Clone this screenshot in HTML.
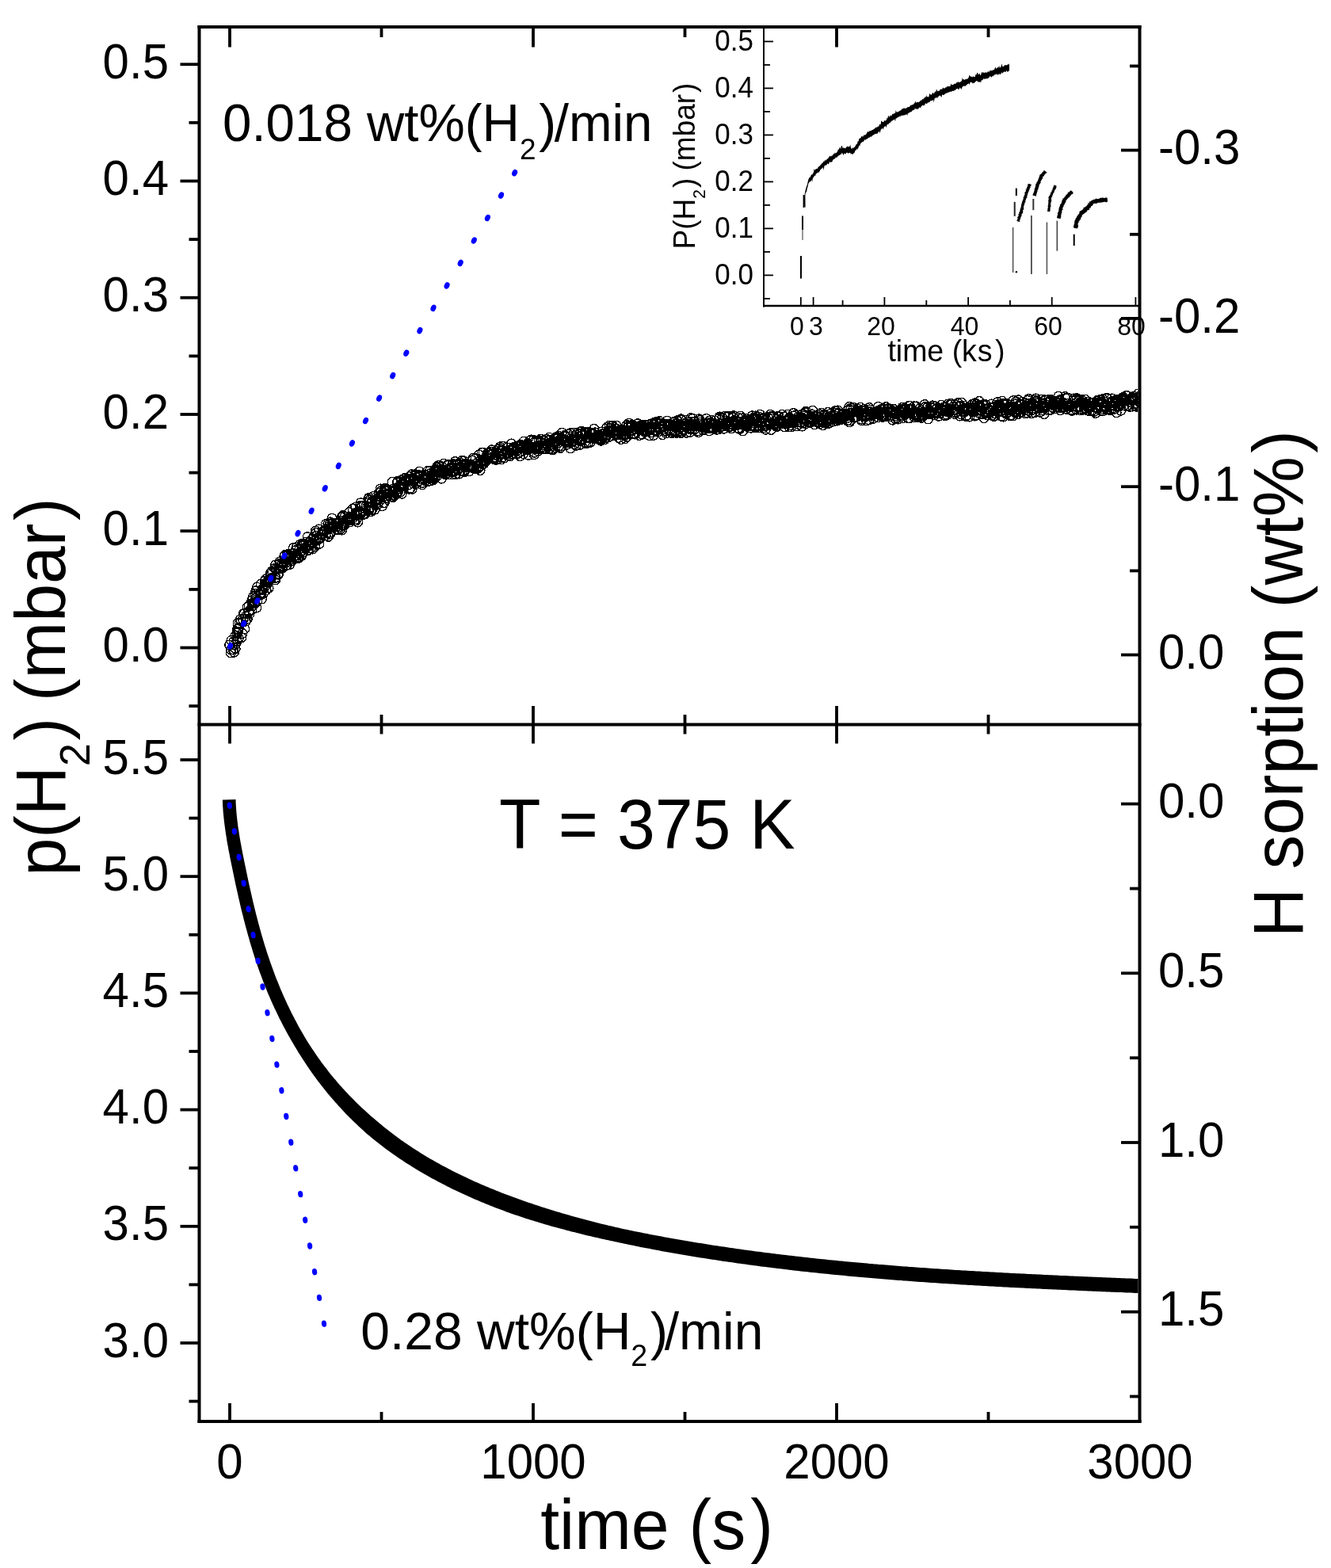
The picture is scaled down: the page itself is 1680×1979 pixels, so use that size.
<!DOCTYPE html>
<html><head><meta charset="utf-8"><title>p(H2) vs time</title><style>html,body{margin:0;padding:0;background:#fff;width:1680px;height:1979px;overflow:hidden}svg{display:block}</style></head><body><svg width="1680" height="1979" viewBox="0 0 1680 1979"><rect width="1680" height="1979" fill="#fff"/><defs><clipPath id="pa"><rect x="253.5" y="36" width="1183" height="876"/></clipPath></defs><g fill="none" stroke="#000" stroke-width="1.4" shape-rendering="crispEdges" clip-path="url(#pa)"><circle cx="291.3" cy="823.8" r="5.9"/><circle cx="295.5" cy="823.2" r="5.9"/><circle cx="291.5" cy="820.1" r="5.9"/><circle cx="294.4" cy="820" r="5.9"/><circle cx="297.1" cy="818.6" r="5.9"/><circle cx="289.7" cy="814" r="5.9"/><circle cx="296.4" cy="813.7" r="5.9"/><circle cx="295.1" cy="809.7" r="5.9"/><circle cx="292" cy="808.3" r="5.9"/><circle cx="299.2" cy="809.6" r="5.9"/><circle cx="298.9" cy="806.3" r="5.9"/><circle cx="301.2" cy="805.4" r="5.9"/><circle cx="297.4" cy="802.1" r="5.9"/><circle cx="304.9" cy="804.6" r="5.9"/><circle cx="299.3" cy="799.2" r="5.9"/><circle cx="305.9" cy="799.4" r="5.9"/><circle cx="300.4" cy="797.2" r="5.9"/><circle cx="299.7" cy="794" r="5.9"/><circle cx="300.7" cy="794" r="5.9"/><circle cx="301.9" cy="792" r="5.9"/><circle cx="308.7" cy="793.9" r="5.9"/><circle cx="300.1" cy="786.3" r="5.9"/><circle cx="302.4" cy="786.6" r="5.9"/><circle cx="304.3" cy="784" r="5.9"/><circle cx="303.4" cy="781.8" r="5.9"/><circle cx="306.8" cy="781.9" r="5.9"/><circle cx="310.3" cy="784.1" r="5.9"/><circle cx="312.2" cy="781.1" r="5.9"/><circle cx="310.3" cy="777.8" r="5.9"/><circle cx="307.5" cy="774.4" r="5.9"/><circle cx="308.3" cy="774.6" r="5.9"/><circle cx="314.8" cy="774.9" r="5.9"/><circle cx="313.6" cy="772.9" r="5.9"/><circle cx="314.3" cy="771.3" r="5.9"/><circle cx="312.2" cy="766.5" r="5.9"/><circle cx="317.9" cy="769.4" r="5.9"/><circle cx="314.1" cy="764.9" r="5.9"/><circle cx="318.7" cy="764.7" r="5.9"/><circle cx="323.8" cy="767" r="5.9"/><circle cx="318.1" cy="761.8" r="5.9"/><circle cx="321.6" cy="761.7" r="5.9"/><circle cx="317.9" cy="758" r="5.9"/><circle cx="321.8" cy="759.7" r="5.9"/><circle cx="324.7" cy="758.6" r="5.9"/><circle cx="322.7" cy="754.7" r="5.9"/><circle cx="319.3" cy="753.6" r="5.9"/><circle cx="322.3" cy="751.6" r="5.9"/><circle cx="330.4" cy="755.9" r="5.9"/><circle cx="322.2" cy="749.6" r="5.9"/><circle cx="329.4" cy="750.6" r="5.9"/><circle cx="328.4" cy="749.5" r="5.9"/><circle cx="322.9" cy="745.8" r="5.9"/><circle cx="329.6" cy="747.8" r="5.9"/><circle cx="332.7" cy="748.1" r="5.9"/><circle cx="324.5" cy="741.3" r="5.9"/><circle cx="332" cy="744.5" r="5.9"/><circle cx="331.7" cy="743.4" r="5.9"/><circle cx="336.1" cy="744.8" r="5.9"/><circle cx="329.2" cy="737.3" r="5.9"/><circle cx="333.9" cy="741.2" r="5.9"/><circle cx="334.6" cy="739.5" r="5.9"/><circle cx="339" cy="742.1" r="5.9"/><circle cx="336.5" cy="738.2" r="5.9"/><circle cx="335.1" cy="736.6" r="5.9"/><circle cx="334.1" cy="733.7" r="5.9"/><circle cx="337.4" cy="734.7" r="5.9"/><circle cx="335.6" cy="730.8" r="5.9"/><circle cx="339.5" cy="732.5" r="5.9"/><circle cx="339.6" cy="733.1" r="5.9"/><circle cx="339.4" cy="731" r="5.9"/><circle cx="341.3" cy="730" r="5.9"/><circle cx="341.3" cy="730.7" r="5.9"/><circle cx="342.7" cy="729.2" r="5.9"/><circle cx="347.6" cy="731.8" r="5.9"/><circle cx="347.7" cy="729.4" r="5.9"/><circle cx="348.1" cy="728.7" r="5.9"/><circle cx="341.9" cy="722.5" r="5.9"/><circle cx="344" cy="723" r="5.9"/><circle cx="343.4" cy="720.8" r="5.9"/><circle cx="350.8" cy="724.7" r="5.9"/><circle cx="351.2" cy="725.2" r="5.9"/><circle cx="351.5" cy="723.9" r="5.9"/><circle cx="346.6" cy="717.4" r="5.9"/><circle cx="348.6" cy="718.2" r="5.9"/><circle cx="349" cy="717.1" r="5.9"/><circle cx="350.9" cy="718.2" r="5.9"/><circle cx="347.8" cy="712.9" r="5.9"/><circle cx="353.4" cy="717.1" r="5.9"/><circle cx="356.3" cy="717.1" r="5.9"/><circle cx="354.6" cy="714.5" r="5.9"/><circle cx="356.7" cy="715.6" r="5.9"/><circle cx="354" cy="710.9" r="5.9"/><circle cx="352.9" cy="709.2" r="5.9"/><circle cx="356.4" cy="710" r="5.9"/><circle cx="361" cy="714" r="5.9"/><circle cx="362.1" cy="713.3" r="5.9"/><circle cx="358.1" cy="709.2" r="5.9"/><circle cx="361.5" cy="709.9" r="5.9"/><circle cx="359.8" cy="708.3" r="5.9"/><circle cx="365.3" cy="712.8" r="5.9"/><circle cx="363.9" cy="708.6" r="5.9"/><circle cx="358.9" cy="702.3" r="5.9"/><circle cx="359.6" cy="700.6" r="5.9"/><circle cx="363.4" cy="701.6" r="5.9"/><circle cx="368.3" cy="708" r="5.9"/><circle cx="362.4" cy="699.8" r="5.9"/><circle cx="367.9" cy="703.9" r="5.9"/><circle cx="367.9" cy="702.2" r="5.9"/><circle cx="368.3" cy="701.7" r="5.9"/><circle cx="371.7" cy="704.3" r="5.9"/><circle cx="374" cy="704.9" r="5.9"/><circle cx="369.9" cy="698.6" r="5.9"/><circle cx="372.2" cy="701.3" r="5.9"/><circle cx="376.6" cy="704.6" r="5.9"/><circle cx="376.5" cy="703" r="5.9"/><circle cx="377.6" cy="703.9" r="5.9"/><circle cx="370.4" cy="691.5" r="5.9"/><circle cx="373.1" cy="694.7" r="5.9"/><circle cx="377.7" cy="698.1" r="5.9"/><circle cx="380.6" cy="701.5" r="5.9"/><circle cx="381" cy="700.5" r="5.9"/><circle cx="374.7" cy="690.2" r="5.9"/><circle cx="379.7" cy="695.7" r="5.9"/><circle cx="377.9" cy="693.1" r="5.9"/><circle cx="382.1" cy="697.2" r="5.9"/><circle cx="382.2" cy="694.5" r="5.9"/><circle cx="383.2" cy="696.6" r="5.9"/><circle cx="381.3" cy="689.4" r="5.9"/><circle cx="379.3" cy="686.9" r="5.9"/><circle cx="381.7" cy="686.9" r="5.9"/><circle cx="384.6" cy="691.3" r="5.9"/><circle cx="383.3" cy="686.2" r="5.9"/><circle cx="388.8" cy="693.9" r="5.9"/><circle cx="389.2" cy="694.4" r="5.9"/><circle cx="388.6" cy="689.4" r="5.9"/><circle cx="386.4" cy="684.2" r="5.9"/><circle cx="388.7" cy="687.4" r="5.9"/><circle cx="392.4" cy="691.8" r="5.9"/><circle cx="394.4" cy="693" r="5.9"/><circle cx="391.5" cy="687.8" r="5.9"/><circle cx="391.2" cy="684" r="5.9"/><circle cx="391.7" cy="684.5" r="5.9"/><circle cx="388.2" cy="677.7" r="5.9"/><circle cx="397.5" cy="689.8" r="5.9"/><circle cx="395.5" cy="685.3" r="5.9"/><circle cx="393.2" cy="681.2" r="5.9"/><circle cx="397" cy="682.6" r="5.9"/><circle cx="395.2" cy="680" r="5.9"/><circle cx="398.6" cy="681.9" r="5.9"/><circle cx="402.9" cy="686.3" r="5.9"/><circle cx="396.1" cy="677.3" r="5.9"/><circle cx="399.5" cy="679.6" r="5.9"/><circle cx="401.9" cy="681.1" r="5.9"/><circle cx="399.3" cy="676.1" r="5.9"/><circle cx="402.7" cy="678.8" r="5.9"/><circle cx="404.3" cy="679.1" r="5.9"/><circle cx="399" cy="672.6" r="5.9"/><circle cx="398.5" cy="670.1" r="5.9"/><circle cx="405.6" cy="674.5" r="5.9"/><circle cx="405.6" cy="674.9" r="5.9"/><circle cx="405.8" cy="674" r="5.9"/><circle cx="402.7" cy="668" r="5.9"/><circle cx="407.4" cy="670.9" r="5.9"/><circle cx="411.1" cy="675.9" r="5.9"/><circle cx="414.5" cy="677.3" r="5.9"/><circle cx="409.4" cy="670.4" r="5.9"/><circle cx="410.1" cy="670.6" r="5.9"/><circle cx="415.8" cy="673.9" r="5.9"/><circle cx="411.7" cy="668.2" r="5.9"/><circle cx="417.3" cy="673.4" r="5.9"/><circle cx="416.7" cy="672" r="5.9"/><circle cx="415.1" cy="667.5" r="5.9"/><circle cx="411.2" cy="661.7" r="5.9"/><circle cx="414.9" cy="664.7" r="5.9"/><circle cx="416.5" cy="666.2" r="5.9"/><circle cx="414" cy="661.1" r="5.9"/><circle cx="419.1" cy="664.8" r="5.9"/><circle cx="416.8" cy="661.2" r="5.9"/><circle cx="417" cy="659" r="5.9"/><circle cx="420.8" cy="664" r="5.9"/><circle cx="419.4" cy="660.3" r="5.9"/><circle cx="424.8" cy="668.2" r="5.9"/><circle cx="426.5" cy="668.8" r="5.9"/><circle cx="419.1" cy="654.1" r="5.9"/><circle cx="423.6" cy="660.6" r="5.9"/><circle cx="426.9" cy="665.2" r="5.9"/><circle cx="426" cy="660.4" r="5.9"/><circle cx="430.1" cy="667.5" r="5.9"/><circle cx="431.5" cy="669" r="5.9"/><circle cx="429.7" cy="664.4" r="5.9"/><circle cx="427.6" cy="658.9" r="5.9"/><circle cx="431.1" cy="662.1" r="5.9"/><circle cx="432.7" cy="663.7" r="5.9"/><circle cx="430.2" cy="657.5" r="5.9"/><circle cx="432.4" cy="659.7" r="5.9"/><circle cx="434.8" cy="662.8" r="5.9"/><circle cx="431.4" cy="653.3" r="5.9"/><circle cx="435.2" cy="659.7" r="5.9"/><circle cx="432.2" cy="652.5" r="5.9"/><circle cx="433.3" cy="651" r="5.9"/><circle cx="432.7" cy="650.6" r="5.9"/><circle cx="435.1" cy="651.9" r="5.9"/><circle cx="437.4" cy="655.3" r="5.9"/><circle cx="439" cy="656.4" r="5.9"/><circle cx="441.6" cy="658.8" r="5.9"/><circle cx="439.7" cy="653.4" r="5.9"/><circle cx="440.9" cy="656.7" r="5.9"/><circle cx="440.6" cy="654.9" r="5.9"/><circle cx="442.6" cy="654.4" r="5.9"/><circle cx="441.4" cy="652.1" r="5.9"/><circle cx="443.3" cy="653" r="5.9"/><circle cx="445.2" cy="653.9" r="5.9"/><circle cx="440.9" cy="646.6" r="5.9"/><circle cx="447.3" cy="656.9" r="5.9"/><circle cx="449.5" cy="656.8" r="5.9"/><circle cx="451.6" cy="659" r="5.9"/><circle cx="450.1" cy="654.9" r="5.9"/><circle cx="448.9" cy="650.8" r="5.9"/><circle cx="448.2" cy="648.7" r="5.9"/><circle cx="445.1" cy="642.4" r="5.9"/><circle cx="451.1" cy="649.7" r="5.9"/><circle cx="450.6" cy="647.9" r="5.9"/><circle cx="450.3" cy="646.5" r="5.9"/><circle cx="448.7" cy="640.2" r="5.9"/><circle cx="454.6" cy="648.8" r="5.9"/><circle cx="455.6" cy="648.4" r="5.9"/><circle cx="454.4" cy="646" r="5.9"/><circle cx="456" cy="646.8" r="5.9"/><circle cx="458.5" cy="649.4" r="5.9"/><circle cx="459.1" cy="648.6" r="5.9"/><circle cx="454.4" cy="638.5" r="5.9"/><circle cx="461.1" cy="648.5" r="5.9"/><circle cx="456.6" cy="638.7" r="5.9"/><circle cx="455.2" cy="634.8" r="5.9"/><circle cx="459.3" cy="638.2" r="5.9"/><circle cx="460.9" cy="642.3" r="5.9"/><circle cx="464.6" cy="644.5" r="5.9"/><circle cx="464.8" cy="644.1" r="5.9"/><circle cx="462.2" cy="638.2" r="5.9"/><circle cx="466" cy="644" r="5.9"/><circle cx="468.4" cy="645.5" r="5.9"/><circle cx="468.7" cy="643.3" r="5.9"/><circle cx="467.4" cy="640.3" r="5.9"/><circle cx="470.1" cy="642.9" r="5.9"/><circle cx="465.6" cy="634.2" r="5.9"/><circle cx="472.8" cy="643.2" r="5.9"/><circle cx="466.1" cy="631.5" r="5.9"/><circle cx="464.8" cy="629.7" r="5.9"/><circle cx="468.9" cy="633.4" r="5.9"/><circle cx="465.9" cy="628.1" r="5.9"/><circle cx="469.8" cy="633.9" r="5.9"/><circle cx="474.1" cy="636.9" r="5.9"/><circle cx="473.5" cy="632.5" r="5.9"/><circle cx="476.5" cy="637" r="5.9"/><circle cx="473.5" cy="631.5" r="5.9"/><circle cx="471.4" cy="626.4" r="5.9"/><circle cx="475.8" cy="630" r="5.9"/><circle cx="476.6" cy="630.6" r="5.9"/><circle cx="482.5" cy="638.7" r="5.9"/><circle cx="479.4" cy="632" r="5.9"/><circle cx="478.4" cy="628.7" r="5.9"/><circle cx="478.7" cy="626.9" r="5.9"/><circle cx="484.3" cy="634.6" r="5.9"/><circle cx="485.1" cy="634.6" r="5.9"/><circle cx="478" cy="622.5" r="5.9"/><circle cx="481.1" cy="624.6" r="5.9"/><circle cx="483.1" cy="627.1" r="5.9"/><circle cx="480.6" cy="619.9" r="5.9"/><circle cx="483" cy="624.3" r="5.9"/><circle cx="480.2" cy="617" r="5.9"/><circle cx="483.9" cy="621.4" r="5.9"/><circle cx="488.4" cy="628.4" r="5.9"/><circle cx="485.9" cy="619.7" r="5.9"/><circle cx="485" cy="616.8" r="5.9"/><circle cx="486.4" cy="619.2" r="5.9"/><circle cx="488.6" cy="620.2" r="5.9"/><circle cx="488" cy="617.9" r="5.9"/><circle cx="486.7" cy="616.7" r="5.9"/><circle cx="495.8" cy="627.7" r="5.9"/><circle cx="496" cy="626.6" r="5.9"/><circle cx="493.5" cy="620.8" r="5.9"/><circle cx="496.6" cy="625.3" r="5.9"/><circle cx="497.7" cy="624.7" r="5.9"/><circle cx="495.4" cy="619.1" r="5.9"/><circle cx="499.9" cy="623.6" r="5.9"/><circle cx="496.4" cy="617.2" r="5.9"/><circle cx="500.3" cy="622.3" r="5.9"/><circle cx="499.7" cy="618.1" r="5.9"/><circle cx="501.5" cy="621.4" r="5.9"/><circle cx="502.3" cy="620.9" r="5.9"/><circle cx="495.1" cy="608.4" r="5.9"/><circle cx="505.2" cy="621.1" r="5.9"/><circle cx="507.1" cy="623.2" r="5.9"/><circle cx="503" cy="614.3" r="5.9"/><circle cx="501.1" cy="609.3" r="5.9"/><circle cx="504.7" cy="614.8" r="5.9"/><circle cx="501.9" cy="607.6" r="5.9"/><circle cx="505.8" cy="613.7" r="5.9"/><circle cx="505.7" cy="611.6" r="5.9"/><circle cx="506.9" cy="611.9" r="5.9"/><circle cx="507.7" cy="610" r="5.9"/><circle cx="509.9" cy="613.9" r="5.9"/><circle cx="506.7" cy="605.7" r="5.9"/><circle cx="509.7" cy="610.8" r="5.9"/><circle cx="510.7" cy="611.1" r="5.9"/><circle cx="510.8" cy="606.9" r="5.9"/><circle cx="511.7" cy="608.2" r="5.9"/><circle cx="510.5" cy="603.7" r="5.9"/><circle cx="516.8" cy="617.2" r="5.9"/><circle cx="515.2" cy="612" r="5.9"/><circle cx="518.2" cy="616.2" r="5.9"/><circle cx="514.7" cy="604.5" r="5.9"/><circle cx="520.1" cy="617.2" r="5.9"/><circle cx="516.6" cy="606.3" r="5.9"/><circle cx="517.1" cy="605.2" r="5.9"/><circle cx="518.6" cy="606.4" r="5.9"/><circle cx="516.7" cy="601.6" r="5.9"/><circle cx="521.5" cy="610.1" r="5.9"/><circle cx="520.9" cy="607.2" r="5.9"/><circle cx="521.6" cy="604.7" r="5.9"/><circle cx="519.5" cy="598.8" r="5.9"/><circle cx="523.4" cy="605.4" r="5.9"/><circle cx="526.2" cy="609.6" r="5.9"/><circle cx="526.2" cy="609.8" r="5.9"/><circle cx="523.6" cy="600.6" r="5.9"/><circle cx="524.1" cy="598.7" r="5.9"/><circle cx="526.4" cy="602.9" r="5.9"/><circle cx="528.2" cy="607" r="5.9"/><circle cx="527.5" cy="600.8" r="5.9"/><circle cx="529.3" cy="601.6" r="5.9"/><circle cx="532.7" cy="611.8" r="5.9"/><circle cx="532.7" cy="609.4" r="5.9"/><circle cx="529.7" cy="599.8" r="5.9"/><circle cx="529.5" cy="595.3" r="5.9"/><circle cx="533.3" cy="605.4" r="5.9"/><circle cx="533.4" cy="603.4" r="5.9"/><circle cx="536.5" cy="606.6" r="5.9"/><circle cx="535.5" cy="604.2" r="5.9"/><circle cx="535.3" cy="599.2" r="5.9"/><circle cx="537.9" cy="603.2" r="5.9"/><circle cx="536.9" cy="599.9" r="5.9"/><circle cx="540.7" cy="607.5" r="5.9"/><circle cx="539.4" cy="600.3" r="5.9"/><circle cx="540.6" cy="603.7" r="5.9"/><circle cx="542.5" cy="607.1" r="5.9"/><circle cx="541.3" cy="602.4" r="5.9"/><circle cx="539.7" cy="594.5" r="5.9"/><circle cx="544.7" cy="603.5" r="5.9"/><circle cx="546.3" cy="606.1" r="5.9"/><circle cx="543" cy="597.7" r="5.9"/><circle cx="542.6" cy="594.5" r="5.9"/><circle cx="546" cy="600.6" r="5.9"/><circle cx="548.5" cy="604" r="5.9"/><circle cx="548.8" cy="603.2" r="5.9"/><circle cx="549.1" cy="601.4" r="5.9"/><circle cx="548.9" cy="598.7" r="5.9"/><circle cx="548.2" cy="595.2" r="5.9"/><circle cx="548.5" cy="593.6" r="5.9"/><circle cx="550" cy="594.9" r="5.9"/><circle cx="549.6" cy="592" r="5.9"/><circle cx="553.4" cy="599.4" r="5.9"/><circle cx="551.3" cy="589.6" r="5.9"/><circle cx="553.2" cy="594.1" r="5.9"/><circle cx="557.3" cy="604.1" r="5.9"/><circle cx="552.3" cy="589.9" r="5.9"/><circle cx="556.2" cy="596.1" r="5.9"/><circle cx="553.1" cy="587.6" r="5.9"/><circle cx="554.7" cy="589.1" r="5.9"/><circle cx="558.1" cy="593.8" r="5.9"/><circle cx="559.8" cy="596.8" r="5.9"/><circle cx="557.7" cy="588.9" r="5.9"/><circle cx="559.8" cy="595.1" r="5.9"/><circle cx="562.3" cy="598.9" r="5.9"/><circle cx="562.6" cy="597.9" r="5.9"/><circle cx="560.4" cy="585.3" r="5.9"/><circle cx="564.9" cy="596.5" r="5.9"/><circle cx="563.8" cy="592.8" r="5.9"/><circle cx="565.7" cy="598.8" r="5.9"/><circle cx="565.2" cy="594.3" r="5.9"/><circle cx="566.1" cy="593.4" r="5.9"/><circle cx="565.5" cy="587.5" r="5.9"/><circle cx="565.6" cy="586.1" r="5.9"/><circle cx="568.1" cy="591.7" r="5.9"/><circle cx="569.8" cy="598.9" r="5.9"/><circle cx="569.7" cy="589.9" r="5.9"/><circle cx="571.5" cy="595.8" r="5.9"/><circle cx="571.8" cy="593.7" r="5.9"/><circle cx="570.8" cy="586.9" r="5.9"/><circle cx="571.8" cy="585.6" r="5.9"/><circle cx="573.7" cy="594.6" r="5.9"/><circle cx="574.9" cy="598.2" r="5.9"/><circle cx="575.6" cy="598.5" r="5.9"/><circle cx="574.4" cy="587.7" r="5.9"/><circle cx="574.3" cy="582.6" r="5.9"/><circle cx="576.6" cy="586.7" r="5.9"/><circle cx="577.8" cy="593.2" r="5.9"/><circle cx="579.4" cy="598" r="5.9"/><circle cx="579.4" cy="590.1" r="5.9"/><circle cx="578.3" cy="584.9" r="5.9"/><circle cx="579.6" cy="586.4" r="5.9"/><circle cx="581.3" cy="590" r="5.9"/><circle cx="581.3" cy="584.3" r="5.9"/><circle cx="583.2" cy="594.8" r="5.9"/><circle cx="583.4" cy="587.3" r="5.9"/><circle cx="584.9" cy="594.5" r="5.9"/><circle cx="583.1" cy="581.5" r="5.9"/><circle cx="586.2" cy="595.6" r="5.9"/><circle cx="586.1" cy="586" r="5.9"/><circle cx="586.8" cy="586.8" r="5.9"/><circle cx="585.7" cy="581.8" r="5.9"/><circle cx="588.4" cy="585.3" r="5.9"/><circle cx="589.6" cy="589.6" r="5.9"/><circle cx="590.7" cy="589.2" r="5.9"/><circle cx="591.9" cy="594.9" r="5.9"/><circle cx="591.7" cy="590.2" r="5.9"/><circle cx="592" cy="589.4" r="5.9"/><circle cx="593.5" cy="586" r="5.9"/><circle cx="593.5" cy="587.6" r="5.9"/><circle cx="595.7" cy="589.8" r="5.9"/><circle cx="595.2" cy="588.8" r="5.9"/><circle cx="597" cy="590.6" r="5.9"/><circle cx="595.9" cy="587.1" r="5.9"/><circle cx="598.3" cy="589.7" r="5.9"/><circle cx="600.9" cy="591.9" r="5.9"/><circle cx="596.3" cy="581.4" r="5.9"/><circle cx="601.7" cy="589.2" r="5.9"/><circle cx="603.2" cy="591.2" r="5.9"/><circle cx="597.4" cy="578.3" r="5.9"/><circle cx="606" cy="593.5" r="5.9"/><circle cx="604.8" cy="589.2" r="5.9"/><circle cx="600.3" cy="578.4" r="5.9"/><circle cx="603.4" cy="582.9" r="5.9"/><circle cx="607" cy="588" r="5.9"/><circle cx="606.2" cy="584.3" r="5.9"/><circle cx="606.9" cy="584.4" r="5.9"/><circle cx="606.3" cy="581.9" r="5.9"/><circle cx="610" cy="585.4" r="5.9"/><circle cx="611.1" cy="584.7" r="5.9"/><circle cx="604.4" cy="573.9" r="5.9"/><circle cx="609.7" cy="579.8" r="5.9"/><circle cx="611.8" cy="582.3" r="5.9"/><circle cx="611.5" cy="580.4" r="5.9"/><circle cx="608.2" cy="571.4" r="5.9"/><circle cx="614" cy="581.1" r="5.9"/><circle cx="614" cy="577.6" r="5.9"/><circle cx="610.1" cy="571.1" r="5.9"/><circle cx="615.9" cy="578.7" r="5.9"/><circle cx="614.5" cy="574.9" r="5.9"/><circle cx="617.1" cy="578.4" r="5.9"/><circle cx="615.4" cy="572" r="5.9"/><circle cx="616.2" cy="572.6" r="5.9"/><circle cx="617" cy="571.4" r="5.9"/><circle cx="618.8" cy="574.2" r="5.9"/><circle cx="618.2" cy="572" r="5.9"/><circle cx="619" cy="570.3" r="5.9"/><circle cx="623.4" cy="579.5" r="5.9"/><circle cx="620.5" cy="567.9" r="5.9"/><circle cx="622.2" cy="572.9" r="5.9"/><circle cx="625.6" cy="580.3" r="5.9"/><circle cx="624.6" cy="576.8" r="5.9"/><circle cx="627.2" cy="579.7" r="5.9"/><circle cx="626.6" cy="577.6" r="5.9"/><circle cx="626.1" cy="574.3" r="5.9"/><circle cx="626.4" cy="569.6" r="5.9"/><circle cx="629.3" cy="575.9" r="5.9"/><circle cx="628.9" cy="575.7" r="5.9"/><circle cx="628.8" cy="571.8" r="5.9"/><circle cx="628.5" cy="567" r="5.9"/><circle cx="632.4" cy="579.8" r="5.9"/><circle cx="630.4" cy="566.2" r="5.9"/><circle cx="633.4" cy="577.5" r="5.9"/><circle cx="631" cy="564" r="5.9"/><circle cx="633.5" cy="569" r="5.9"/><circle cx="633.5" cy="568.2" r="5.9"/><circle cx="634.9" cy="568.7" r="5.9"/><circle cx="637" cy="577.6" r="5.9"/><circle cx="636.5" cy="572.4" r="5.9"/><circle cx="635.1" cy="563.5" r="5.9"/><circle cx="639" cy="571.1" r="5.9"/><circle cx="638.5" cy="569.2" r="5.9"/><circle cx="640.2" cy="573" r="5.9"/><circle cx="641.3" cy="575.2" r="5.9"/><circle cx="641.3" cy="570.9" r="5.9"/><circle cx="640.9" cy="565" r="5.9"/><circle cx="643" cy="568.2" r="5.9"/><circle cx="644" cy="575.7" r="5.9"/><circle cx="643.1" cy="568.1" r="5.9"/><circle cx="644.9" cy="573" r="5.9"/><circle cx="644.7" cy="568.2" r="5.9"/><circle cx="647.2" cy="573.1" r="5.9"/><circle cx="645.6" cy="560" r="5.9"/><circle cx="646.7" cy="566" r="5.9"/><circle cx="647.6" cy="567.7" r="5.9"/><circle cx="648.4" cy="565.7" r="5.9"/><circle cx="649.6" cy="564.5" r="5.9"/><circle cx="648.6" cy="564.4" r="5.9"/><circle cx="651.7" cy="569.7" r="5.9"/><circle cx="652.4" cy="573.2" r="5.9"/><circle cx="652.3" cy="563.3" r="5.9"/><circle cx="652.7" cy="566.4" r="5.9"/><circle cx="654.7" cy="571.9" r="5.9"/><circle cx="653.6" cy="563.8" r="5.9"/><circle cx="656.5" cy="575.7" r="5.9"/><circle cx="656.6" cy="565.9" r="5.9"/><circle cx="656.4" cy="561.4" r="5.9"/><circle cx="656.9" cy="562.7" r="5.9"/><circle cx="657.2" cy="561.2" r="5.9"/><circle cx="657.7" cy="562" r="5.9"/><circle cx="660.6" cy="572.6" r="5.9"/><circle cx="660.2" cy="563.7" r="5.9"/><circle cx="661.2" cy="565.4" r="5.9"/><circle cx="661.6" cy="563" r="5.9"/><circle cx="661" cy="557.3" r="5.9"/><circle cx="663.6" cy="567" r="5.9"/><circle cx="664.4" cy="567.4" r="5.9"/><circle cx="666.7" cy="574.3" r="5.9"/><circle cx="666.4" cy="565.6" r="5.9"/><circle cx="666.6" cy="567.5" r="5.9"/><circle cx="666" cy="559.6" r="5.9"/><circle cx="667.3" cy="561.5" r="5.9"/><circle cx="668" cy="562.5" r="5.9"/><circle cx="668.9" cy="564.5" r="5.9"/><circle cx="668.8" cy="556.3" r="5.9"/><circle cx="670.3" cy="564.4" r="5.9"/><circle cx="671.7" cy="564.3" r="5.9"/><circle cx="670.8" cy="555" r="5.9"/><circle cx="674.4" cy="573.7" r="5.9"/><circle cx="674.6" cy="571.2" r="5.9"/><circle cx="674.1" cy="564.5" r="5.9"/><circle cx="673.5" cy="555.6" r="5.9"/><circle cx="675.8" cy="564.2" r="5.9"/><circle cx="676.7" cy="566.3" r="5.9"/><circle cx="676.3" cy="556.4" r="5.9"/><circle cx="678.9" cy="569.3" r="5.9"/><circle cx="677.3" cy="557.6" r="5.9"/><circle cx="679.5" cy="563" r="5.9"/><circle cx="679.5" cy="562" r="5.9"/><circle cx="681.3" cy="566.6" r="5.9"/><circle cx="680.4" cy="555.8" r="5.9"/><circle cx="680.4" cy="555.8" r="5.9"/><circle cx="682.3" cy="557.7" r="5.9"/><circle cx="682.5" cy="554.2" r="5.9"/><circle cx="684.4" cy="561.9" r="5.9"/><circle cx="685.8" cy="566.7" r="5.9"/><circle cx="686.5" cy="565.8" r="5.9"/><circle cx="685.3" cy="555.9" r="5.9"/><circle cx="688.1" cy="566.4" r="5.9"/><circle cx="687.1" cy="556.5" r="5.9"/><circle cx="689.7" cy="565.9" r="5.9"/><circle cx="689.1" cy="561" r="5.9"/><circle cx="689.3" cy="554.6" r="5.9"/><circle cx="690" cy="554.2" r="5.9"/><circle cx="692.2" cy="563.5" r="5.9"/><circle cx="693.3" cy="566.7" r="5.9"/><circle cx="692.6" cy="555.6" r="5.9"/><circle cx="694.2" cy="565.6" r="5.9"/><circle cx="693.5" cy="552.3" r="5.9"/><circle cx="696.7" cy="566.9" r="5.9"/><circle cx="697.6" cy="567.9" r="5.9"/><circle cx="698.2" cy="566.9" r="5.9"/><circle cx="697.2" cy="558.8" r="5.9"/><circle cx="698.7" cy="562.6" r="5.9"/><circle cx="698.9" cy="557" r="5.9"/><circle cx="700.9" cy="564.8" r="5.9"/><circle cx="700.5" cy="558.4" r="5.9"/><circle cx="699.7" cy="553.7" r="5.9"/><circle cx="701" cy="552.4" r="5.9"/><circle cx="702.2" cy="553.2" r="5.9"/><circle cx="703.9" cy="559.2" r="5.9"/><circle cx="703" cy="551.4" r="5.9"/><circle cx="705.1" cy="563.3" r="5.9"/><circle cx="705" cy="552.9" r="5.9"/><circle cx="707.5" cy="565.3" r="5.9"/><circle cx="704.6" cy="550.3" r="5.9"/><circle cx="707.5" cy="555.4" r="5.9"/><circle cx="708.8" cy="563" r="5.9"/><circle cx="708" cy="553.5" r="5.9"/><circle cx="709.1" cy="554.3" r="5.9"/><circle cx="710.7" cy="554.6" r="5.9"/><circle cx="709.3" cy="546.4" r="5.9"/><circle cx="712" cy="555.8" r="5.9"/><circle cx="713.9" cy="558.4" r="5.9"/><circle cx="713.2" cy="551.1" r="5.9"/><circle cx="712.9" cy="549.5" r="5.9"/><circle cx="715.8" cy="561.1" r="5.9"/><circle cx="715.6" cy="558" r="5.9"/><circle cx="716.2" cy="555.9" r="5.9"/><circle cx="718" cy="559" r="5.9"/><circle cx="720" cy="565.9" r="5.9"/><circle cx="717.3" cy="548.1" r="5.9"/><circle cx="720.4" cy="558.7" r="5.9"/><circle cx="719" cy="551.3" r="5.9"/><circle cx="720.5" cy="553.6" r="5.9"/><circle cx="720.2" cy="546.7" r="5.9"/><circle cx="723" cy="557.3" r="5.9"/><circle cx="724.5" cy="560.4" r="5.9"/><circle cx="724.1" cy="555.6" r="5.9"/><circle cx="725.5" cy="560.7" r="5.9"/><circle cx="725" cy="552.4" r="5.9"/><circle cx="727.1" cy="562.3" r="5.9"/><circle cx="724.5" cy="546.3" r="5.9"/><circle cx="727.8" cy="554.7" r="5.9"/><circle cx="727.2" cy="549.2" r="5.9"/><circle cx="729.2" cy="554.9" r="5.9"/><circle cx="729.1" cy="554.6" r="5.9"/><circle cx="728.9" cy="546.7" r="5.9"/><circle cx="732.3" cy="561.2" r="5.9"/><circle cx="731.8" cy="555.5" r="5.9"/><circle cx="732.3" cy="557" r="5.9"/><circle cx="733.6" cy="555.5" r="5.9"/><circle cx="732.9" cy="545" r="5.9"/><circle cx="734.3" cy="549.8" r="5.9"/><circle cx="733.6" cy="544.3" r="5.9"/><circle cx="735.1" cy="546.8" r="5.9"/><circle cx="738.2" cy="558.2" r="5.9"/><circle cx="735.8" cy="548.8" r="5.9"/><circle cx="739.7" cy="559.7" r="5.9"/><circle cx="738.8" cy="549.2" r="5.9"/><circle cx="739" cy="546" r="5.9"/><circle cx="742.5" cy="558.6" r="5.9"/><circle cx="740.6" cy="545.3" r="5.9"/><circle cx="742.3" cy="552.6" r="5.9"/><circle cx="742.7" cy="550.6" r="5.9"/><circle cx="745" cy="558.2" r="5.9"/><circle cx="744" cy="551.7" r="5.9"/><circle cx="743.9" cy="545.6" r="5.9"/><circle cx="745.3" cy="547.2" r="5.9"/><circle cx="746.4" cy="546.6" r="5.9"/><circle cx="746.5" cy="548" r="5.9"/><circle cx="747.1" cy="546.9" r="5.9"/><circle cx="747.9" cy="546.3" r="5.9"/><circle cx="750.2" cy="552.3" r="5.9"/><circle cx="750.7" cy="553.9" r="5.9"/><circle cx="749.8" cy="541.4" r="5.9"/><circle cx="751.5" cy="552.3" r="5.9"/><circle cx="751.4" cy="545.9" r="5.9"/><circle cx="753.2" cy="551.6" r="5.9"/><circle cx="754.2" cy="550.7" r="5.9"/><circle cx="755.7" cy="554.4" r="5.9"/><circle cx="755.2" cy="553.5" r="5.9"/><circle cx="755.6" cy="549.8" r="5.9"/><circle cx="757.8" cy="555.2" r="5.9"/><circle cx="757.2" cy="549.8" r="5.9"/><circle cx="758.7" cy="556.2" r="5.9"/><circle cx="760.1" cy="554.2" r="5.9"/><circle cx="760.2" cy="551.4" r="5.9"/><circle cx="759.8" cy="544.9" r="5.9"/><circle cx="760.6" cy="547.5" r="5.9"/><circle cx="763.2" cy="554.7" r="5.9"/><circle cx="762.3" cy="547.9" r="5.9"/><circle cx="763.9" cy="549.7" r="5.9"/><circle cx="764.3" cy="552.7" r="5.9"/><circle cx="764.6" cy="550.2" r="5.9"/><circle cx="765.7" cy="549.5" r="5.9"/><circle cx="766" cy="549.4" r="5.9"/><circle cx="767.7" cy="551.8" r="5.9"/><circle cx="766.3" cy="539.3" r="5.9"/><circle cx="767.4" cy="544.3" r="5.9"/><circle cx="768.4" cy="543.4" r="5.9"/><circle cx="770.1" cy="550.7" r="5.9"/><circle cx="770.4" cy="544.5" r="5.9"/><circle cx="769.5" cy="537.3" r="5.9"/><circle cx="770.8" cy="540.9" r="5.9"/><circle cx="771.7" cy="537.5" r="5.9"/><circle cx="774" cy="545.2" r="5.9"/><circle cx="773.5" cy="537.4" r="5.9"/><circle cx="774.3" cy="543.3" r="5.9"/><circle cx="774.6" cy="539.4" r="5.9"/><circle cx="777.1" cy="548" r="5.9"/><circle cx="777.4" cy="549.1" r="5.9"/><circle cx="777.1" cy="544.6" r="5.9"/><circle cx="777.8" cy="541.5" r="5.9"/><circle cx="778" cy="537.1" r="5.9"/><circle cx="779.8" cy="547.4" r="5.9"/><circle cx="780.9" cy="552.4" r="5.9"/><circle cx="780.5" cy="543.9" r="5.9"/><circle cx="783.7" cy="554.5" r="5.9"/><circle cx="782.6" cy="546.3" r="5.9"/><circle cx="783.9" cy="548.4" r="5.9"/><circle cx="783.9" cy="542" r="5.9"/><circle cx="785.1" cy="544.2" r="5.9"/><circle cx="786.2" cy="549.1" r="5.9"/><circle cx="786.5" cy="543.7" r="5.9"/><circle cx="787.5" cy="549.4" r="5.9"/><circle cx="789" cy="553.6" r="5.9"/><circle cx="788.9" cy="549.3" r="5.9"/><circle cx="789.8" cy="544.2" r="5.9"/><circle cx="791" cy="551.3" r="5.9"/><circle cx="791" cy="548.2" r="5.9"/><circle cx="790.5" cy="537.4" r="5.9"/><circle cx="791.2" cy="536.5" r="5.9"/><circle cx="792.7" cy="539.2" r="5.9"/><circle cx="793.5" cy="547.4" r="5.9"/><circle cx="793.3" cy="538.1" r="5.9"/><circle cx="793.8" cy="534.2" r="5.9"/><circle cx="796.2" cy="537.6" r="5.9"/><circle cx="797" cy="543.6" r="5.9"/><circle cx="796.8" cy="539.2" r="5.9"/><circle cx="798.8" cy="547.7" r="5.9"/><circle cx="799.4" cy="541.2" r="5.9"/><circle cx="798.6" cy="536" r="5.9"/><circle cx="800.5" cy="546.9" r="5.9"/><circle cx="801.9" cy="548" r="5.9"/><circle cx="801.7" cy="541.2" r="5.9"/><circle cx="802.2" cy="538.2" r="5.9"/><circle cx="802.8" cy="541.7" r="5.9"/><circle cx="804.3" cy="538.4" r="5.9"/><circle cx="804.9" cy="538.5" r="5.9"/><circle cx="804.9" cy="534.8" r="5.9"/><circle cx="806.8" cy="549.5" r="5.9"/><circle cx="805.8" cy="541.1" r="5.9"/><circle cx="807.4" cy="537.7" r="5.9"/><circle cx="807.9" cy="539.6" r="5.9"/><circle cx="809" cy="540.8" r="5.9"/><circle cx="809.6" cy="536.6" r="5.9"/><circle cx="810.6" cy="548.1" r="5.9"/><circle cx="810.4" cy="542.7" r="5.9"/><circle cx="811.9" cy="541.8" r="5.9"/><circle cx="812.1" cy="538.9" r="5.9"/><circle cx="813.3" cy="544.2" r="5.9"/><circle cx="813.9" cy="545.3" r="5.9"/><circle cx="814.3" cy="537" r="5.9"/><circle cx="814.2" cy="536.6" r="5.9"/><circle cx="816.7" cy="543.1" r="5.9"/><circle cx="816.9" cy="540" r="5.9"/><circle cx="817.8" cy="536.2" r="5.9"/><circle cx="819.2" cy="543.2" r="5.9"/><circle cx="819.5" cy="549.6" r="5.9"/><circle cx="819.1" cy="541.2" r="5.9"/><circle cx="819.9" cy="535.8" r="5.9"/><circle cx="820.6" cy="538.6" r="5.9"/><circle cx="821.6" cy="538.3" r="5.9"/><circle cx="822.9" cy="545.6" r="5.9"/><circle cx="822.6" cy="540" r="5.9"/><circle cx="824.6" cy="549.4" r="5.9"/><circle cx="824" cy="534" r="5.9"/><circle cx="825.5" cy="534.6" r="5.9"/><circle cx="826.1" cy="535.7" r="5.9"/><circle cx="826.9" cy="539.4" r="5.9"/><circle cx="827.9" cy="544.5" r="5.9"/><circle cx="828.4" cy="542.9" r="5.9"/><circle cx="828.7" cy="534.4" r="5.9"/><circle cx="829" cy="532.5" r="5.9"/><circle cx="830.8" cy="544.7" r="5.9"/><circle cx="831.9" cy="535.4" r="5.9"/><circle cx="832.6" cy="531.7" r="5.9"/><circle cx="833.4" cy="539.2" r="5.9"/><circle cx="833.9" cy="541.1" r="5.9"/><circle cx="833.8" cy="534.7" r="5.9"/><circle cx="835.5" cy="537.8" r="5.9"/><circle cx="836.1" cy="548.6" r="5.9"/><circle cx="836.4" cy="539.4" r="5.9"/><circle cx="837.2" cy="542.1" r="5.9"/><circle cx="837.8" cy="534.9" r="5.9"/><circle cx="838.4" cy="536.7" r="5.9"/><circle cx="839.3" cy="537.6" r="5.9"/><circle cx="839.9" cy="544.2" r="5.9"/><circle cx="841.1" cy="546.9" r="5.9"/><circle cx="842.1" cy="531.2" r="5.9"/><circle cx="842.1" cy="535.3" r="5.9"/><circle cx="842.9" cy="538.1" r="5.9"/><circle cx="843.8" cy="536.4" r="5.9"/><circle cx="845" cy="544.1" r="5.9"/><circle cx="844.7" cy="537.5" r="5.9"/><circle cx="846.1" cy="543.9" r="5.9"/><circle cx="846.9" cy="536.3" r="5.9"/><circle cx="847.9" cy="546.7" r="5.9"/><circle cx="848.5" cy="545.9" r="5.9"/><circle cx="849.4" cy="537.2" r="5.9"/><circle cx="849.5" cy="543.5" r="5.9"/><circle cx="850" cy="532.8" r="5.9"/><circle cx="851.1" cy="545.5" r="5.9"/><circle cx="852.6" cy="544.8" r="5.9"/><circle cx="851.4" cy="532.4" r="5.9"/><circle cx="853" cy="539.9" r="5.9"/><circle cx="854.1" cy="546.3" r="5.9"/><circle cx="854.8" cy="535.1" r="5.9"/><circle cx="855.2" cy="530.6" r="5.9"/><circle cx="856.6" cy="537.6" r="5.9"/><circle cx="855.9" cy="532.4" r="5.9"/><circle cx="857.7" cy="535.4" r="5.9"/><circle cx="858.6" cy="546.2" r="5.9"/><circle cx="859.1" cy="544.1" r="5.9"/><circle cx="859.5" cy="528.9" r="5.9"/><circle cx="860.5" cy="546.2" r="5.9"/><circle cx="860" cy="530.6" r="5.9"/><circle cx="862" cy="542.6" r="5.9"/><circle cx="862.1" cy="538.9" r="5.9"/><circle cx="863.3" cy="542" r="5.9"/><circle cx="864.1" cy="534.8" r="5.9"/><circle cx="864.9" cy="537.6" r="5.9"/><circle cx="866.7" cy="546.2" r="5.9"/><circle cx="866.3" cy="539.5" r="5.9"/><circle cx="866" cy="530.3" r="5.9"/><circle cx="867.4" cy="536.9" r="5.9"/><circle cx="868.2" cy="540" r="5.9"/><circle cx="868.4" cy="532.1" r="5.9"/><circle cx="870.6" cy="545.4" r="5.9"/><circle cx="870.7" cy="541.8" r="5.9"/><circle cx="870.6" cy="537.2" r="5.9"/><circle cx="871.7" cy="527.7" r="5.9"/><circle cx="872.4" cy="532.1" r="5.9"/><circle cx="874" cy="541.8" r="5.9"/><circle cx="874.2" cy="536" r="5.9"/><circle cx="874.6" cy="528.5" r="5.9"/><circle cx="875.4" cy="532.5" r="5.9"/><circle cx="877.3" cy="541.4" r="5.9"/><circle cx="877" cy="532.8" r="5.9"/><circle cx="878" cy="535.6" r="5.9"/><circle cx="878.9" cy="537.9" r="5.9"/><circle cx="878.8" cy="537" r="5.9"/><circle cx="880.7" cy="543.7" r="5.9"/><circle cx="881.6" cy="545.5" r="5.9"/><circle cx="881.4" cy="534.9" r="5.9"/><circle cx="881.5" cy="535.2" r="5.9"/><circle cx="883.5" cy="535.6" r="5.9"/><circle cx="882.7" cy="528.8" r="5.9"/><circle cx="883.2" cy="530.6" r="5.9"/><circle cx="884.1" cy="533.4" r="5.9"/><circle cx="885.8" cy="536.8" r="5.9"/><circle cx="887.6" cy="542.9" r="5.9"/><circle cx="887.6" cy="539.7" r="5.9"/><circle cx="888.5" cy="538.3" r="5.9"/><circle cx="889.5" cy="541.7" r="5.9"/><circle cx="889.8" cy="536.3" r="5.9"/><circle cx="890.5" cy="539.1" r="5.9"/><circle cx="891" cy="536" r="5.9"/><circle cx="891.9" cy="534.4" r="5.9"/><circle cx="894.3" cy="540.2" r="5.9"/><circle cx="891.6" cy="528.5" r="5.9"/><circle cx="895.2" cy="543.8" r="5.9"/><circle cx="895.3" cy="540.6" r="5.9"/><circle cx="896.7" cy="540.9" r="5.9"/><circle cx="895.1" cy="531.5" r="5.9"/><circle cx="896.6" cy="534.3" r="5.9"/><circle cx="897.3" cy="533.3" r="5.9"/><circle cx="898.8" cy="539.8" r="5.9"/><circle cx="897.9" cy="530.1" r="5.9"/><circle cx="900.4" cy="539.8" r="5.9"/><circle cx="900.5" cy="539.6" r="5.9"/><circle cx="900.7" cy="534.5" r="5.9"/><circle cx="901.9" cy="535.1" r="5.9"/><circle cx="902.3" cy="531" r="5.9"/><circle cx="903.5" cy="535" r="5.9"/><circle cx="904.6" cy="542.2" r="5.9"/><circle cx="905.4" cy="539" r="5.9"/><circle cx="906.8" cy="541.8" r="5.9"/><circle cx="907.2" cy="539.8" r="5.9"/><circle cx="907.4" cy="537" r="5.9"/><circle cx="907" cy="528.7" r="5.9"/><circle cx="908.2" cy="526" r="5.9"/><circle cx="908.5" cy="527.1" r="5.9"/><circle cx="909.9" cy="539.1" r="5.9"/><circle cx="910.5" cy="534.8" r="5.9"/><circle cx="912" cy="532.4" r="5.9"/><circle cx="912.1" cy="527.5" r="5.9"/><circle cx="913.4" cy="537.7" r="5.9"/><circle cx="913.6" cy="541.2" r="5.9"/><circle cx="914.7" cy="535.3" r="5.9"/><circle cx="914.9" cy="525.3" r="5.9"/><circle cx="915.8" cy="537.4" r="5.9"/><circle cx="917.5" cy="531.1" r="5.9"/><circle cx="917.6" cy="532.9" r="5.9"/><circle cx="917.8" cy="534.2" r="5.9"/><circle cx="918.7" cy="525.4" r="5.9"/><circle cx="919.6" cy="525.8" r="5.9"/><circle cx="920.7" cy="539.1" r="5.9"/><circle cx="920.7" cy="535.6" r="5.9"/><circle cx="920.9" cy="535" r="5.9"/><circle cx="922.3" cy="537.6" r="5.9"/><circle cx="923.1" cy="540.8" r="5.9"/><circle cx="923.9" cy="536.1" r="5.9"/><circle cx="925.1" cy="526.2" r="5.9"/><circle cx="925.4" cy="527.3" r="5.9"/><circle cx="926.3" cy="524.7" r="5.9"/><circle cx="926.3" cy="531.1" r="5.9"/><circle cx="927.8" cy="534.6" r="5.9"/><circle cx="929" cy="531.3" r="5.9"/><circle cx="929.2" cy="535.3" r="5.9"/><circle cx="929.7" cy="532.6" r="5.9"/><circle cx="930.4" cy="536.3" r="5.9"/><circle cx="931.8" cy="527.4" r="5.9"/><circle cx="931.5" cy="540.4" r="5.9"/><circle cx="932.5" cy="540.5" r="5.9"/><circle cx="933.5" cy="541.6" r="5.9"/><circle cx="934.3" cy="525.1" r="5.9"/><circle cx="934.6" cy="534.9" r="5.9"/><circle cx="935.6" cy="535.3" r="5.9"/><circle cx="936.1" cy="532.2" r="5.9"/><circle cx="937" cy="527.9" r="5.9"/><circle cx="937.6" cy="543.9" r="5.9"/><circle cx="937.9" cy="533.9" r="5.9"/><circle cx="939.1" cy="532.3" r="5.9"/><circle cx="940.2" cy="530.6" r="5.9"/><circle cx="940.2" cy="537.2" r="5.9"/><circle cx="941.2" cy="533.9" r="5.9"/><circle cx="942.3" cy="538.1" r="5.9"/><circle cx="942.3" cy="528.3" r="5.9"/><circle cx="943.5" cy="532.1" r="5.9"/><circle cx="943.8" cy="536.1" r="5.9"/><circle cx="945.4" cy="533.8" r="5.9"/><circle cx="946.6" cy="539.9" r="5.9"/><circle cx="947.2" cy="530.5" r="5.9"/><circle cx="947" cy="537.6" r="5.9"/><circle cx="948.1" cy="540.1" r="5.9"/><circle cx="948.6" cy="537.6" r="5.9"/><circle cx="949.3" cy="524.8" r="5.9"/><circle cx="950.6" cy="533.7" r="5.9"/><circle cx="950.2" cy="528.7" r="5.9"/><circle cx="952" cy="539" r="5.9"/><circle cx="952.1" cy="527.5" r="5.9"/><circle cx="953.7" cy="539.7" r="5.9"/><circle cx="953.5" cy="525.1" r="5.9"/><circle cx="954" cy="529.3" r="5.9"/><circle cx="955" cy="528" r="5.9"/><circle cx="955.9" cy="528.4" r="5.9"/><circle cx="956.8" cy="536.6" r="5.9"/><circle cx="957.4" cy="530.6" r="5.9"/><circle cx="957.4" cy="525.9" r="5.9"/><circle cx="958.3" cy="539.6" r="5.9"/><circle cx="959.2" cy="523.2" r="5.9"/><circle cx="960.6" cy="534.3" r="5.9"/><circle cx="961.3" cy="537.3" r="5.9"/><circle cx="961.7" cy="532.9" r="5.9"/><circle cx="962.4" cy="527.7" r="5.9"/><circle cx="963.5" cy="539.9" r="5.9"/><circle cx="963.2" cy="528.6" r="5.9"/><circle cx="964" cy="526.9" r="5.9"/><circle cx="966.2" cy="537.5" r="5.9"/><circle cx="966.3" cy="542.2" r="5.9"/><circle cx="967.6" cy="536.9" r="5.9"/><circle cx="967.5" cy="535" r="5.9"/><circle cx="967.6" cy="530.3" r="5.9"/><circle cx="968.9" cy="526.6" r="5.9"/><circle cx="969.6" cy="531.9" r="5.9"/><circle cx="970" cy="534" r="5.9"/><circle cx="971.3" cy="535.5" r="5.9"/><circle cx="973.2" cy="542.4" r="5.9"/><circle cx="972.3" cy="523.3" r="5.9"/><circle cx="972.6" cy="526.4" r="5.9"/><circle cx="974" cy="529.4" r="5.9"/><circle cx="974.5" cy="525.2" r="5.9"/><circle cx="974.7" cy="526.2" r="5.9"/><circle cx="975.9" cy="525.9" r="5.9"/><circle cx="977.3" cy="535.9" r="5.9"/><circle cx="977.9" cy="536.5" r="5.9"/><circle cx="978.5" cy="534.2" r="5.9"/><circle cx="979.4" cy="534.5" r="5.9"/><circle cx="980.5" cy="538.5" r="5.9"/><circle cx="980.8" cy="537" r="5.9"/><circle cx="981" cy="529.3" r="5.9"/><circle cx="982.1" cy="525.5" r="5.9"/><circle cx="983.1" cy="534.9" r="5.9"/><circle cx="984" cy="533.1" r="5.9"/><circle cx="984.8" cy="532" r="5.9"/><circle cx="985.2" cy="530.3" r="5.9"/><circle cx="986.7" cy="531.8" r="5.9"/><circle cx="986.3" cy="534.7" r="5.9"/><circle cx="987.5" cy="532.2" r="5.9"/><circle cx="987.3" cy="523.2" r="5.9"/><circle cx="989.1" cy="526" r="5.9"/><circle cx="990.5" cy="538.8" r="5.9"/><circle cx="989.4" cy="533.4" r="5.9"/><circle cx="990.2" cy="526.4" r="5.9"/><circle cx="992" cy="534.9" r="5.9"/><circle cx="992.6" cy="531.6" r="5.9"/><circle cx="993.5" cy="535" r="5.9"/><circle cx="993.6" cy="529.7" r="5.9"/><circle cx="994.2" cy="523.3" r="5.9"/><circle cx="995.8" cy="538.7" r="5.9"/><circle cx="995.8" cy="529.4" r="5.9"/><circle cx="997.3" cy="536.8" r="5.9"/><circle cx="996.3" cy="527.4" r="5.9"/><circle cx="998.5" cy="533.4" r="5.9"/><circle cx="998.8" cy="538.9" r="5.9"/><circle cx="999.9" cy="530.2" r="5.9"/><circle cx="1000.3" cy="533.1" r="5.9"/><circle cx="1000.8" cy="534" r="5.9"/><circle cx="1001.5" cy="521.6" r="5.9"/><circle cx="1001.8" cy="525.3" r="5.9"/><circle cx="1002.8" cy="529.3" r="5.9"/><circle cx="1003.2" cy="529.9" r="5.9"/><circle cx="1004.3" cy="523.8" r="5.9"/><circle cx="1005.9" cy="537.7" r="5.9"/><circle cx="1006.6" cy="532.7" r="5.9"/><circle cx="1006.7" cy="529.9" r="5.9"/><circle cx="1007.8" cy="526.2" r="5.9"/><circle cx="1008.5" cy="535.6" r="5.9"/><circle cx="1008.8" cy="527.6" r="5.9"/><circle cx="1009.8" cy="526.4" r="5.9"/><circle cx="1011" cy="533.3" r="5.9"/><circle cx="1011.2" cy="532.7" r="5.9"/><circle cx="1012.2" cy="538" r="5.9"/><circle cx="1012.5" cy="527.6" r="5.9"/><circle cx="1013.4" cy="529.7" r="5.9"/><circle cx="1013.4" cy="522.6" r="5.9"/><circle cx="1015" cy="525" r="5.9"/><circle cx="1015.5" cy="533.5" r="5.9"/><circle cx="1016.1" cy="521" r="5.9"/><circle cx="1016.9" cy="534.7" r="5.9"/><circle cx="1017.4" cy="519.3" r="5.9"/><circle cx="1018.2" cy="520.3" r="5.9"/><circle cx="1019.2" cy="532.8" r="5.9"/><circle cx="1020.5" cy="524.7" r="5.9"/><circle cx="1020.8" cy="529.2" r="5.9"/><circle cx="1022.3" cy="533.7" r="5.9"/><circle cx="1022.4" cy="527.1" r="5.9"/><circle cx="1022.7" cy="532.5" r="5.9"/><circle cx="1023.3" cy="526.7" r="5.9"/><circle cx="1024.5" cy="529.7" r="5.9"/><circle cx="1024.7" cy="522.9" r="5.9"/><circle cx="1025.8" cy="530.8" r="5.9"/><circle cx="1025.8" cy="518.3" r="5.9"/><circle cx="1026.4" cy="528" r="5.9"/><circle cx="1028.2" cy="535.7" r="5.9"/><circle cx="1027.9" cy="531.1" r="5.9"/><circle cx="1029.3" cy="524.7" r="5.9"/><circle cx="1029.8" cy="528.6" r="5.9"/><circle cx="1030.7" cy="532.7" r="5.9"/><circle cx="1031.2" cy="524" r="5.9"/><circle cx="1032.1" cy="524.2" r="5.9"/><circle cx="1032.6" cy="532.1" r="5.9"/><circle cx="1033.1" cy="529.7" r="5.9"/><circle cx="1033.7" cy="522.6" r="5.9"/><circle cx="1034.8" cy="535" r="5.9"/><circle cx="1035.4" cy="526.8" r="5.9"/><circle cx="1036.8" cy="521.2" r="5.9"/><circle cx="1037.2" cy="533" r="5.9"/><circle cx="1038.9" cy="536.6" r="5.9"/><circle cx="1038.5" cy="531.4" r="5.9"/><circle cx="1039.6" cy="527.5" r="5.9"/><circle cx="1039.9" cy="524.7" r="5.9"/><circle cx="1040.6" cy="523" r="5.9"/><circle cx="1042.3" cy="532.2" r="5.9"/><circle cx="1042.9" cy="525.1" r="5.9"/><circle cx="1043.7" cy="533.2" r="5.9"/><circle cx="1044" cy="528.1" r="5.9"/><circle cx="1044.8" cy="534.9" r="5.9"/><circle cx="1044.9" cy="520.5" r="5.9"/><circle cx="1046.2" cy="529.6" r="5.9"/><circle cx="1047.7" cy="533.4" r="5.9"/><circle cx="1047.8" cy="529.7" r="5.9"/><circle cx="1048.7" cy="525" r="5.9"/><circle cx="1048.4" cy="529.3" r="5.9"/><circle cx="1049" cy="522" r="5.9"/><circle cx="1051.1" cy="529.8" r="5.9"/><circle cx="1051.6" cy="531.9" r="5.9"/><circle cx="1051.5" cy="526.1" r="5.9"/><circle cx="1052.2" cy="524.3" r="5.9"/><circle cx="1053" cy="528.5" r="5.9"/><circle cx="1053.5" cy="521.6" r="5.9"/><circle cx="1054.8" cy="519" r="5.9"/><circle cx="1056.6" cy="531" r="5.9"/><circle cx="1054.7" cy="518.3" r="5.9"/><circle cx="1056.8" cy="527.4" r="5.9"/><circle cx="1058.1" cy="529.9" r="5.9"/><circle cx="1058.2" cy="521.3" r="5.9"/><circle cx="1057.7" cy="518" r="5.9"/><circle cx="1059" cy="521.7" r="5.9"/><circle cx="1061.5" cy="529.2" r="5.9"/><circle cx="1062.1" cy="528.2" r="5.9"/><circle cx="1061.7" cy="523.6" r="5.9"/><circle cx="1062.5" cy="526.1" r="5.9"/><circle cx="1063.5" cy="529" r="5.9"/><circle cx="1063.8" cy="523.8" r="5.9"/><circle cx="1064.4" cy="527.1" r="5.9"/><circle cx="1066.1" cy="525.6" r="5.9"/><circle cx="1066.2" cy="524.6" r="5.9"/><circle cx="1067.1" cy="522.9" r="5.9"/><circle cx="1069.6" cy="531" r="5.9"/><circle cx="1069.5" cy="527.4" r="5.9"/><circle cx="1068.6" cy="522.6" r="5.9"/><circle cx="1069.6" cy="517.8" r="5.9"/><circle cx="1071.3" cy="524.3" r="5.9"/><circle cx="1072.4" cy="532.7" r="5.9"/><circle cx="1072.8" cy="530.8" r="5.9"/><circle cx="1072" cy="516.6" r="5.9"/><circle cx="1071.8" cy="513.5" r="5.9"/><circle cx="1074.7" cy="521" r="5.9"/><circle cx="1074" cy="522.2" r="5.9"/><circle cx="1074.5" cy="515" r="5.9"/><circle cx="1075.9" cy="518.2" r="5.9"/><circle cx="1077.6" cy="526.9" r="5.9"/><circle cx="1077.2" cy="514.2" r="5.9"/><circle cx="1079.3" cy="527" r="5.9"/><circle cx="1079.7" cy="526.2" r="5.9"/><circle cx="1080.4" cy="519.4" r="5.9"/><circle cx="1080.5" cy="526.7" r="5.9"/><circle cx="1081.4" cy="518.2" r="5.9"/><circle cx="1082" cy="520.2" r="5.9"/><circle cx="1082.8" cy="516" r="5.9"/><circle cx="1083.9" cy="521" r="5.9"/><circle cx="1084.2" cy="521.1" r="5.9"/><circle cx="1085" cy="520.1" r="5.9"/><circle cx="1086" cy="514.3" r="5.9"/><circle cx="1087.3" cy="529" r="5.9"/><circle cx="1087.6" cy="530.6" r="5.9"/><circle cx="1089.2" cy="524.6" r="5.9"/><circle cx="1089.8" cy="518.7" r="5.9"/><circle cx="1089" cy="519.2" r="5.9"/><circle cx="1090.4" cy="516.4" r="5.9"/><circle cx="1092.3" cy="524.3" r="5.9"/><circle cx="1092.2" cy="522.7" r="5.9"/><circle cx="1092.9" cy="526" r="5.9"/><circle cx="1093.6" cy="530.8" r="5.9"/><circle cx="1094" cy="525.1" r="5.9"/><circle cx="1094.7" cy="519.6" r="5.9"/><circle cx="1095.3" cy="522.6" r="5.9"/><circle cx="1096.8" cy="529.7" r="5.9"/><circle cx="1096.8" cy="519.2" r="5.9"/><circle cx="1097.3" cy="514.6" r="5.9"/><circle cx="1097.8" cy="517" r="5.9"/><circle cx="1099.2" cy="524.2" r="5.9"/><circle cx="1099.6" cy="524.7" r="5.9"/><circle cx="1100.6" cy="521.5" r="5.9"/><circle cx="1101.8" cy="522.4" r="5.9"/><circle cx="1102.4" cy="528.3" r="5.9"/><circle cx="1103.1" cy="523.2" r="5.9"/><circle cx="1103.7" cy="519.7" r="5.9"/><circle cx="1104.3" cy="522" r="5.9"/><circle cx="1105" cy="522.6" r="5.9"/><circle cx="1105.7" cy="525.5" r="5.9"/><circle cx="1106.7" cy="520.7" r="5.9"/><circle cx="1106.7" cy="518.9" r="5.9"/><circle cx="1108.6" cy="526.6" r="5.9"/><circle cx="1108.5" cy="513.4" r="5.9"/><circle cx="1109.1" cy="521.8" r="5.9"/><circle cx="1109.9" cy="519.1" r="5.9"/><circle cx="1110.6" cy="523.6" r="5.9"/><circle cx="1111.5" cy="516.9" r="5.9"/><circle cx="1112" cy="521" r="5.9"/><circle cx="1113.6" cy="526.3" r="5.9"/><circle cx="1113.3" cy="516.7" r="5.9"/><circle cx="1113.7" cy="525.2" r="5.9"/><circle cx="1115" cy="523.8" r="5.9"/><circle cx="1115" cy="515.7" r="5.9"/><circle cx="1116.5" cy="516.4" r="5.9"/><circle cx="1117.8" cy="522.2" r="5.9"/><circle cx="1118.2" cy="513.6" r="5.9"/><circle cx="1118.4" cy="524.8" r="5.9"/><circle cx="1119.4" cy="525.4" r="5.9"/><circle cx="1120.9" cy="516.7" r="5.9"/><circle cx="1121.1" cy="518.9" r="5.9"/><circle cx="1121.6" cy="515.6" r="5.9"/><circle cx="1123" cy="525.5" r="5.9"/><circle cx="1124.2" cy="520.3" r="5.9"/><circle cx="1124.5" cy="524" r="5.9"/><circle cx="1124.6" cy="516.9" r="5.9"/><circle cx="1125.5" cy="521.1" r="5.9"/><circle cx="1126.3" cy="520" r="5.9"/><circle cx="1126.9" cy="530.1" r="5.9"/><circle cx="1127.1" cy="519.4" r="5.9"/><circle cx="1128.1" cy="516.6" r="5.9"/><circle cx="1128.8" cy="525.2" r="5.9"/><circle cx="1130.1" cy="528.6" r="5.9"/><circle cx="1130.4" cy="519.4" r="5.9"/><circle cx="1132.5" cy="527.6" r="5.9"/><circle cx="1131.7" cy="522.9" r="5.9"/><circle cx="1132.6" cy="520.5" r="5.9"/><circle cx="1133.8" cy="529" r="5.9"/><circle cx="1134.2" cy="519.2" r="5.9"/><circle cx="1135.2" cy="519.9" r="5.9"/><circle cx="1135.6" cy="524.4" r="5.9"/><circle cx="1135.8" cy="518.6" r="5.9"/><circle cx="1136.3" cy="520.1" r="5.9"/><circle cx="1137.1" cy="516.6" r="5.9"/><circle cx="1139.2" cy="527.8" r="5.9"/><circle cx="1139.4" cy="523.7" r="5.9"/><circle cx="1139.1" cy="514.1" r="5.9"/><circle cx="1140.2" cy="516" r="5.9"/><circle cx="1141.6" cy="523.2" r="5.9"/><circle cx="1142" cy="515.5" r="5.9"/><circle cx="1142.8" cy="523.1" r="5.9"/><circle cx="1143.2" cy="516.3" r="5.9"/><circle cx="1143.7" cy="521.8" r="5.9"/><circle cx="1144.5" cy="519.4" r="5.9"/><circle cx="1146.5" cy="521.7" r="5.9"/><circle cx="1146.2" cy="527.9" r="5.9"/><circle cx="1147.6" cy="527.7" r="5.9"/><circle cx="1147.4" cy="512.1" r="5.9"/><circle cx="1148.2" cy="516.1" r="5.9"/><circle cx="1148.5" cy="512.4" r="5.9"/><circle cx="1149.8" cy="516.1" r="5.9"/><circle cx="1151.1" cy="522.5" r="5.9"/><circle cx="1151.7" cy="521.7" r="5.9"/><circle cx="1151.3" cy="516.9" r="5.9"/><circle cx="1153.1" cy="520.9" r="5.9"/><circle cx="1154" cy="526.7" r="5.9"/><circle cx="1153.8" cy="512.8" r="5.9"/><circle cx="1155.5" cy="522" r="5.9"/><circle cx="1156.7" cy="525.5" r="5.9"/><circle cx="1157.2" cy="522.2" r="5.9"/><circle cx="1156.7" cy="512.9" r="5.9"/><circle cx="1159" cy="526.9" r="5.9"/><circle cx="1159.8" cy="525.5" r="5.9"/><circle cx="1160.4" cy="523.7" r="5.9"/><circle cx="1160.6" cy="515.8" r="5.9"/><circle cx="1160.8" cy="516.1" r="5.9"/><circle cx="1161.7" cy="518.9" r="5.9"/><circle cx="1163.4" cy="527.3" r="5.9"/><circle cx="1162.7" cy="519" r="5.9"/><circle cx="1164.3" cy="523.5" r="5.9"/><circle cx="1164.8" cy="524.5" r="5.9"/><circle cx="1165.4" cy="520.4" r="5.9"/><circle cx="1165.6" cy="520.9" r="5.9"/><circle cx="1166.3" cy="514.5" r="5.9"/><circle cx="1167.1" cy="510.6" r="5.9"/><circle cx="1168.4" cy="513.3" r="5.9"/><circle cx="1169.5" cy="520.5" r="5.9"/><circle cx="1170" cy="522.8" r="5.9"/><circle cx="1170.2" cy="514.4" r="5.9"/><circle cx="1171.4" cy="528.8" r="5.9"/><circle cx="1172.3" cy="522.4" r="5.9"/><circle cx="1172.6" cy="519.2" r="5.9"/><circle cx="1173.8" cy="521.3" r="5.9"/><circle cx="1174.6" cy="513.8" r="5.9"/><circle cx="1174.9" cy="519.1" r="5.9"/><circle cx="1175.1" cy="520.8" r="5.9"/><circle cx="1176" cy="519.7" r="5.9"/><circle cx="1176.3" cy="514.3" r="5.9"/><circle cx="1177" cy="512" r="5.9"/><circle cx="1179.2" cy="521" r="5.9"/><circle cx="1179.5" cy="521.9" r="5.9"/><circle cx="1179.6" cy="523.8" r="5.9"/><circle cx="1180.7" cy="512.8" r="5.9"/><circle cx="1181.8" cy="515.7" r="5.9"/><circle cx="1181.9" cy="515.7" r="5.9"/><circle cx="1182.5" cy="515.6" r="5.9"/><circle cx="1183.3" cy="515" r="5.9"/><circle cx="1184.8" cy="525.2" r="5.9"/><circle cx="1185.5" cy="521.6" r="5.9"/><circle cx="1186.3" cy="518.8" r="5.9"/><circle cx="1187.2" cy="521.3" r="5.9"/><circle cx="1187.7" cy="517.5" r="5.9"/><circle cx="1188.2" cy="511.2" r="5.9"/><circle cx="1188.9" cy="517.2" r="5.9"/><circle cx="1188.7" cy="516" r="5.9"/><circle cx="1190.2" cy="519" r="5.9"/><circle cx="1190.9" cy="514.4" r="5.9"/><circle cx="1191.7" cy="524.1" r="5.9"/><circle cx="1193" cy="524.8" r="5.9"/><circle cx="1192.8" cy="513.6" r="5.9"/><circle cx="1193.4" cy="517.4" r="5.9"/><circle cx="1195.3" cy="523.6" r="5.9"/><circle cx="1195.5" cy="517.6" r="5.9"/><circle cx="1196.2" cy="520" r="5.9"/><circle cx="1196.8" cy="510.1" r="5.9"/><circle cx="1197.9" cy="518.7" r="5.9"/><circle cx="1198.2" cy="515.7" r="5.9"/><circle cx="1198" cy="519.8" r="5.9"/><circle cx="1199.4" cy="518.7" r="5.9"/><circle cx="1199.9" cy="509.5" r="5.9"/><circle cx="1200.5" cy="511.1" r="5.9"/><circle cx="1202" cy="519.7" r="5.9"/><circle cx="1202.9" cy="514" r="5.9"/><circle cx="1203" cy="513.7" r="5.9"/><circle cx="1203.6" cy="517.9" r="5.9"/><circle cx="1205.6" cy="520.4" r="5.9"/><circle cx="1205.4" cy="522.5" r="5.9"/><circle cx="1205.5" cy="510.4" r="5.9"/><circle cx="1206.9" cy="511.5" r="5.9"/><circle cx="1207.8" cy="517.1" r="5.9"/><circle cx="1208.1" cy="519.7" r="5.9"/><circle cx="1209.2" cy="508.7" r="5.9"/><circle cx="1209.5" cy="509.2" r="5.9"/><circle cx="1210.1" cy="512.9" r="5.9"/><circle cx="1211.5" cy="525.1" r="5.9"/><circle cx="1212.2" cy="512.1" r="5.9"/><circle cx="1212.4" cy="512.3" r="5.9"/><circle cx="1213.7" cy="523" r="5.9"/><circle cx="1214" cy="508.4" r="5.9"/><circle cx="1216" cy="516.4" r="5.9"/><circle cx="1215.4" cy="519.2" r="5.9"/><circle cx="1216.9" cy="512.3" r="5.9"/><circle cx="1217.1" cy="520.2" r="5.9"/><circle cx="1217.8" cy="515.8" r="5.9"/><circle cx="1218.9" cy="525.3" r="5.9"/><circle cx="1219.7" cy="524.4" r="5.9"/><circle cx="1220.5" cy="516.4" r="5.9"/><circle cx="1220.9" cy="517.4" r="5.9"/><circle cx="1221.2" cy="515.3" r="5.9"/><circle cx="1221.9" cy="514.2" r="5.9"/><circle cx="1223.1" cy="514.7" r="5.9"/><circle cx="1223.9" cy="526" r="5.9"/><circle cx="1224.9" cy="512.3" r="5.9"/><circle cx="1225.3" cy="518.2" r="5.9"/><circle cx="1226.2" cy="515.1" r="5.9"/><circle cx="1227.2" cy="519.3" r="5.9"/><circle cx="1227.4" cy="518.3" r="5.9"/><circle cx="1227.4" cy="510.3" r="5.9"/><circle cx="1228.3" cy="519.6" r="5.9"/><circle cx="1228.9" cy="516.5" r="5.9"/><circle cx="1230.8" cy="508.7" r="5.9"/><circle cx="1230.6" cy="525" r="5.9"/><circle cx="1232.2" cy="524.2" r="5.9"/><circle cx="1232.6" cy="510.2" r="5.9"/><circle cx="1233.8" cy="518" r="5.9"/><circle cx="1234.2" cy="513.8" r="5.9"/><circle cx="1234.5" cy="512.1" r="5.9"/><circle cx="1235.2" cy="511.7" r="5.9"/><circle cx="1236" cy="506.6" r="5.9"/><circle cx="1236.8" cy="521.8" r="5.9"/><circle cx="1237.2" cy="513" r="5.9"/><circle cx="1238.2" cy="514.1" r="5.9"/><circle cx="1239.6" cy="522.5" r="5.9"/><circle cx="1239" cy="518.3" r="5.9"/><circle cx="1240.5" cy="511.6" r="5.9"/><circle cx="1240.7" cy="510.8" r="5.9"/><circle cx="1242" cy="527.6" r="5.9"/><circle cx="1242.9" cy="520" r="5.9"/><circle cx="1243.3" cy="521.9" r="5.9"/><circle cx="1244.3" cy="510.7" r="5.9"/><circle cx="1244.1" cy="516.6" r="5.9"/><circle cx="1245.9" cy="523.5" r="5.9"/><circle cx="1246" cy="520.4" r="5.9"/><circle cx="1247.2" cy="515.6" r="5.9"/><circle cx="1247.7" cy="520.6" r="5.9"/><circle cx="1247.3" cy="516.3" r="5.9"/><circle cx="1248.8" cy="513.9" r="5.9"/><circle cx="1249.9" cy="517.9" r="5.9"/><circle cx="1251.2" cy="519.5" r="5.9"/><circle cx="1251.4" cy="510" r="5.9"/><circle cx="1252.2" cy="524" r="5.9"/><circle cx="1252.2" cy="515.3" r="5.9"/><circle cx="1254.1" cy="525.3" r="5.9"/><circle cx="1255" cy="521.5" r="5.9"/><circle cx="1254.9" cy="513.7" r="5.9"/><circle cx="1255.6" cy="525.2" r="5.9"/><circle cx="1255.8" cy="518.9" r="5.9"/><circle cx="1257.5" cy="516.8" r="5.9"/><circle cx="1258.9" cy="519.7" r="5.9"/><circle cx="1258.8" cy="507.8" r="5.9"/><circle cx="1259.8" cy="518.4" r="5.9"/><circle cx="1260.2" cy="512.1" r="5.9"/><circle cx="1260.3" cy="510.7" r="5.9"/><circle cx="1262" cy="514.8" r="5.9"/><circle cx="1261.7" cy="510.7" r="5.9"/><circle cx="1262.9" cy="519.4" r="5.9"/><circle cx="1263.9" cy="525.3" r="5.9"/><circle cx="1264.6" cy="506.3" r="5.9"/><circle cx="1265.3" cy="515" r="5.9"/><circle cx="1266.1" cy="526" r="5.9"/><circle cx="1266.2" cy="509.6" r="5.9"/><circle cx="1266.7" cy="510.3" r="5.9"/><circle cx="1268.1" cy="517" r="5.9"/><circle cx="1268.4" cy="509.6" r="5.9"/><circle cx="1268.9" cy="511.1" r="5.9"/><circle cx="1269.8" cy="522.3" r="5.9"/><circle cx="1270.9" cy="521.1" r="5.9"/><circle cx="1270.7" cy="509.5" r="5.9"/><circle cx="1271.8" cy="515.2" r="5.9"/><circle cx="1272.5" cy="517.4" r="5.9"/><circle cx="1274.4" cy="524.5" r="5.9"/><circle cx="1274.6" cy="514.6" r="5.9"/><circle cx="1276.7" cy="523.9" r="5.9"/><circle cx="1275.6" cy="518.2" r="5.9"/><circle cx="1276.4" cy="515.6" r="5.9"/><circle cx="1278.6" cy="524.8" r="5.9"/><circle cx="1277.9" cy="513.5" r="5.9"/><circle cx="1278.7" cy="514.7" r="5.9"/><circle cx="1279.2" cy="505.6" r="5.9"/><circle cx="1280.7" cy="520.4" r="5.9"/><circle cx="1280.9" cy="518.6" r="5.9"/><circle cx="1281.8" cy="519.7" r="5.9"/><circle cx="1282" cy="509.9" r="5.9"/><circle cx="1283.5" cy="516.3" r="5.9"/><circle cx="1282.4" cy="506.8" r="5.9"/><circle cx="1285.2" cy="522.4" r="5.9"/><circle cx="1285.4" cy="512.7" r="5.9"/><circle cx="1286.7" cy="517.2" r="5.9"/><circle cx="1285.3" cy="504.8" r="5.9"/><circle cx="1288.7" cy="520.6" r="5.9"/><circle cx="1289.2" cy="519.4" r="5.9"/><circle cx="1287.7" cy="509.8" r="5.9"/><circle cx="1290" cy="516.8" r="5.9"/><circle cx="1291" cy="516.2" r="5.9"/><circle cx="1290" cy="507.2" r="5.9"/><circle cx="1291.2" cy="514.9" r="5.9"/><circle cx="1293.7" cy="521.6" r="5.9"/><circle cx="1293.6" cy="512.9" r="5.9"/><circle cx="1294.1" cy="508.7" r="5.9"/><circle cx="1294.4" cy="516.7" r="5.9"/><circle cx="1296.6" cy="513.1" r="5.9"/><circle cx="1296.9" cy="521.1" r="5.9"/><circle cx="1298.1" cy="518.3" r="5.9"/><circle cx="1297.3" cy="505.5" r="5.9"/><circle cx="1298.5" cy="509.4" r="5.9"/><circle cx="1299.6" cy="514.9" r="5.9"/><circle cx="1298.3" cy="503.6" r="5.9"/><circle cx="1300.7" cy="510.9" r="5.9"/><circle cx="1300.9" cy="510.7" r="5.9"/><circle cx="1302.2" cy="521.5" r="5.9"/><circle cx="1303.7" cy="509" r="5.9"/><circle cx="1304.4" cy="517.1" r="5.9"/><circle cx="1305.9" cy="520.6" r="5.9"/><circle cx="1304.6" cy="510.6" r="5.9"/><circle cx="1306" cy="506.9" r="5.9"/><circle cx="1306.6" cy="505" r="5.9"/><circle cx="1307.2" cy="503" r="5.9"/><circle cx="1308.3" cy="516.1" r="5.9"/><circle cx="1308.3" cy="512.6" r="5.9"/><circle cx="1309.5" cy="513.2" r="5.9"/><circle cx="1309.1" cy="509.5" r="5.9"/><circle cx="1309.8" cy="506.1" r="5.9"/><circle cx="1312" cy="516" r="5.9"/><circle cx="1312.6" cy="520.3" r="5.9"/><circle cx="1313" cy="511" r="5.9"/><circle cx="1313.3" cy="504.1" r="5.9"/><circle cx="1315.8" cy="518" r="5.9"/><circle cx="1316" cy="514.7" r="5.9"/><circle cx="1315.9" cy="509.5" r="5.9"/><circle cx="1317.3" cy="512.6" r="5.9"/><circle cx="1317.9" cy="522.5" r="5.9"/><circle cx="1318.3" cy="515.1" r="5.9"/><circle cx="1319.5" cy="514.1" r="5.9"/><circle cx="1318.7" cy="504.8" r="5.9"/><circle cx="1319.9" cy="505.2" r="5.9"/><circle cx="1320.4" cy="508.2" r="5.9"/><circle cx="1321.9" cy="511.3" r="5.9"/><circle cx="1323" cy="507.7" r="5.9"/><circle cx="1323.5" cy="517.9" r="5.9"/><circle cx="1323.7" cy="504.3" r="5.9"/><circle cx="1324.1" cy="506.5" r="5.9"/><circle cx="1324.8" cy="507.5" r="5.9"/><circle cx="1326.1" cy="517.2" r="5.9"/><circle cx="1327.2" cy="504.7" r="5.9"/><circle cx="1328.8" cy="513.7" r="5.9"/><circle cx="1328.8" cy="514" r="5.9"/><circle cx="1328.8" cy="509.6" r="5.9"/><circle cx="1330.4" cy="515.9" r="5.9"/><circle cx="1330.5" cy="512.1" r="5.9"/><circle cx="1331.7" cy="511.2" r="5.9"/><circle cx="1331.9" cy="506.2" r="5.9"/><circle cx="1332.7" cy="506.7" r="5.9"/><circle cx="1333.6" cy="507.7" r="5.9"/><circle cx="1333.9" cy="509.2" r="5.9"/><circle cx="1334.9" cy="513.3" r="5.9"/><circle cx="1335.2" cy="514.4" r="5.9"/><circle cx="1335.8" cy="500.3" r="5.9"/><circle cx="1336.4" cy="506.4" r="5.9"/><circle cx="1337.6" cy="504.8" r="5.9"/><circle cx="1338.5" cy="517.7" r="5.9"/><circle cx="1339.3" cy="507.8" r="5.9"/><circle cx="1340.3" cy="513.2" r="5.9"/><circle cx="1340.3" cy="512.9" r="5.9"/><circle cx="1341.3" cy="514.8" r="5.9"/><circle cx="1341.8" cy="508.5" r="5.9"/><circle cx="1343.3" cy="514.1" r="5.9"/><circle cx="1344.3" cy="500.6" r="5.9"/><circle cx="1344.8" cy="516" r="5.9"/><circle cx="1344.9" cy="502.7" r="5.9"/><circle cx="1346.5" cy="513" r="5.9"/><circle cx="1346.1" cy="516.3" r="5.9"/><circle cx="1347.9" cy="509.4" r="5.9"/><circle cx="1347.8" cy="513" r="5.9"/><circle cx="1347.7" cy="502.4" r="5.9"/><circle cx="1350.6" cy="512.4" r="5.9"/><circle cx="1350.9" cy="512" r="5.9"/><circle cx="1350.6" cy="510.6" r="5.9"/><circle cx="1351.8" cy="517.1" r="5.9"/><circle cx="1352.3" cy="513.8" r="5.9"/><circle cx="1353.2" cy="510" r="5.9"/><circle cx="1353.3" cy="518.3" r="5.9"/><circle cx="1354.4" cy="505.5" r="5.9"/><circle cx="1355.6" cy="503" r="5.9"/><circle cx="1356.2" cy="509.3" r="5.9"/><circle cx="1357.3" cy="504.8" r="5.9"/><circle cx="1357.5" cy="516.1" r="5.9"/><circle cx="1359.3" cy="502.7" r="5.9"/><circle cx="1358.7" cy="517.1" r="5.9"/><circle cx="1359.8" cy="513" r="5.9"/><circle cx="1359.7" cy="512.7" r="5.9"/><circle cx="1360.6" cy="514.1" r="5.9"/><circle cx="1362.5" cy="505.5" r="5.9"/><circle cx="1362.3" cy="504" r="5.9"/><circle cx="1363.6" cy="513.3" r="5.9"/><circle cx="1364.1" cy="508.1" r="5.9"/><circle cx="1364.3" cy="517.9" r="5.9"/><circle cx="1365.4" cy="516.3" r="5.9"/><circle cx="1366.1" cy="505.6" r="5.9"/><circle cx="1366.8" cy="505.9" r="5.9"/><circle cx="1368" cy="510.4" r="5.9"/><circle cx="1368.7" cy="515.4" r="5.9"/><circle cx="1369" cy="508.3" r="5.9"/><circle cx="1369.6" cy="504.1" r="5.9"/><circle cx="1370.7" cy="515.4" r="5.9"/><circle cx="1371.3" cy="509.3" r="5.9"/><circle cx="1372.4" cy="517.9" r="5.9"/><circle cx="1373.8" cy="515.1" r="5.9"/><circle cx="1373.9" cy="507.4" r="5.9"/><circle cx="1374.2" cy="515.1" r="5.9"/><circle cx="1374.9" cy="512.4" r="5.9"/><circle cx="1375.3" cy="518.9" r="5.9"/><circle cx="1376.1" cy="508.7" r="5.9"/><circle cx="1376.8" cy="514.2" r="5.9"/><circle cx="1377.7" cy="518.3" r="5.9"/><circle cx="1378.5" cy="509.2" r="5.9"/><circle cx="1379.6" cy="517.6" r="5.9"/><circle cx="1379.9" cy="508.5" r="5.9"/><circle cx="1380.8" cy="508.1" r="5.9"/><circle cx="1381" cy="519.3" r="5.9"/><circle cx="1382.9" cy="521.4" r="5.9"/><circle cx="1383.2" cy="514" r="5.9"/><circle cx="1384.5" cy="505.7" r="5.9"/><circle cx="1384.8" cy="514.2" r="5.9"/><circle cx="1385.8" cy="515.7" r="5.9"/><circle cx="1385.8" cy="506.3" r="5.9"/><circle cx="1386.9" cy="510.7" r="5.9"/><circle cx="1388.4" cy="507.1" r="5.9"/><circle cx="1387.6" cy="504.8" r="5.9"/><circle cx="1389.3" cy="518" r="5.9"/><circle cx="1390.3" cy="515.8" r="5.9"/><circle cx="1390.4" cy="507.8" r="5.9"/><circle cx="1391.3" cy="507.9" r="5.9"/><circle cx="1392.4" cy="518.6" r="5.9"/><circle cx="1392.1" cy="503.8" r="5.9"/><circle cx="1393.4" cy="512.6" r="5.9"/><circle cx="1393.5" cy="506.8" r="5.9"/><circle cx="1394.4" cy="512.2" r="5.9"/><circle cx="1395.2" cy="514.6" r="5.9"/><circle cx="1396.1" cy="512.3" r="5.9"/><circle cx="1397.1" cy="516.9" r="5.9"/><circle cx="1397.5" cy="503.3" r="5.9"/><circle cx="1397.4" cy="502.3" r="5.9"/><circle cx="1400.1" cy="517.4" r="5.9"/><circle cx="1400.5" cy="516.7" r="5.9"/><circle cx="1400.8" cy="512.5" r="5.9"/><circle cx="1401" cy="508.7" r="5.9"/><circle cx="1402.2" cy="516.9" r="5.9"/><circle cx="1402.7" cy="506.8" r="5.9"/><circle cx="1403.2" cy="503" r="5.9"/><circle cx="1403.3" cy="508.1" r="5.9"/><circle cx="1405.5" cy="516.4" r="5.9"/><circle cx="1407.1" cy="515.9" r="5.9"/><circle cx="1405.3" cy="506" r="5.9"/><circle cx="1407.3" cy="507.3" r="5.9"/><circle cx="1407.8" cy="508.5" r="5.9"/><circle cx="1409.1" cy="520.7" r="5.9"/><circle cx="1409.4" cy="504.3" r="5.9"/><circle cx="1409.4" cy="509.2" r="5.9"/><circle cx="1410.4" cy="505.5" r="5.9"/><circle cx="1411.6" cy="504.4" r="5.9"/><circle cx="1412.2" cy="513.1" r="5.9"/><circle cx="1412.3" cy="504.4" r="5.9"/><circle cx="1413.7" cy="510.6" r="5.9"/><circle cx="1414.7" cy="518.1" r="5.9"/><circle cx="1415.3" cy="505.1" r="5.9"/><circle cx="1414.9" cy="503.2" r="5.9"/><circle cx="1416.3" cy="503" r="5.9"/><circle cx="1416.4" cy="506.1" r="5.9"/><circle cx="1417.8" cy="504.5" r="5.9"/><circle cx="1418.8" cy="511.7" r="5.9"/><circle cx="1417.7" cy="501.3" r="5.9"/><circle cx="1419.6" cy="502.8" r="5.9"/><circle cx="1419.9" cy="503.7" r="5.9"/><circle cx="1421.7" cy="512.8" r="5.9"/><circle cx="1422.1" cy="499.1" r="5.9"/><circle cx="1421.7" cy="499.6" r="5.9"/><circle cx="1423.6" cy="512.3" r="5.9"/><circle cx="1424.7" cy="504.5" r="5.9"/><circle cx="1425.7" cy="513.3" r="5.9"/><circle cx="1426.5" cy="507.5" r="5.9"/><circle cx="1426.7" cy="507.5" r="5.9"/><circle cx="1426.6" cy="503.8" r="5.9"/><circle cx="1427.8" cy="505.3" r="5.9"/><circle cx="1429.8" cy="513" r="5.9"/><circle cx="1429.6" cy="504.8" r="5.9"/><circle cx="1429.6" cy="501.5" r="5.9"/><circle cx="1430.5" cy="502.5" r="5.9"/><circle cx="1430.9" cy="500.4" r="5.9"/><circle cx="1431.8" cy="503.6" r="5.9"/><circle cx="1433.4" cy="502.2" r="5.9"/><circle cx="1434.5" cy="513.2" r="5.9"/><circle cx="1434.3" cy="509.1" r="5.9"/><circle cx="1435.5" cy="510.9" r="5.9"/><circle cx="1435.8" cy="501.9" r="5.9"/><circle cx="1437" cy="506.6" r="5.9"/><circle cx="1436.4" cy="497.1" r="5.9"/><circle cx="1437.9" cy="506" r="5.9"/><circle cx="1439.2" cy="508.6" r="5.9"/><circle cx="1438.4" cy="501.2" r="5.9"/><circle cx="1439.1" cy="499.4" r="5.9"/><circle cx="1442" cy="511.1" r="5.9"/><circle cx="1442.2" cy="510.8" r="5.9"/><circle cx="1443.7" cy="514.5" r="5.9"/><circle cx="1443.6" cy="504.1" r="5.9"/><circle cx="1444.3" cy="506.1" r="5.9"/><circle cx="1445" cy="507.5" r="5.9"/><circle cx="1447.4" cy="515" r="5.9"/><circle cx="1446.3" cy="504.1" r="5.9"/><circle cx="1446.6" cy="503.6" r="5.9"/><circle cx="1448.5" cy="509.9" r="5.9"/><circle cx="1448" cy="500.3" r="5.9"/><circle cx="1448.1" cy="499.7" r="5.9"/><circle cx="1449" cy="497.7" r="5.9"/></g><g fill="#0000ff"><ellipse cx="290.5" cy="815.4" rx="3.3" ry="4.4" transform="rotate(24 290.5 815.4)"/><ellipse cx="307.6" cy="787" rx="3.3" ry="4.4" transform="rotate(24 307.6 787)"/><ellipse cx="324.7" cy="758.5" rx="3.3" ry="4.4" transform="rotate(24 324.7 758.5)"/><ellipse cx="341.8" cy="730.1" rx="3.3" ry="4.4" transform="rotate(24 341.8 730.1)"/><ellipse cx="358.9" cy="701.6" rx="3.3" ry="4.4" transform="rotate(24 358.9 701.6)"/><ellipse cx="376" cy="673.2" rx="3.3" ry="4.4" transform="rotate(24 376 673.2)"/><ellipse cx="393.1" cy="644.8" rx="3.3" ry="4.4" transform="rotate(24 393.1 644.8)"/><ellipse cx="410.2" cy="616.3" rx="3.3" ry="4.4" transform="rotate(24 410.2 616.3)"/><ellipse cx="427.3" cy="587.9" rx="3.3" ry="4.4" transform="rotate(24 427.3 587.9)"/><ellipse cx="444.4" cy="559.4" rx="3.3" ry="4.4" transform="rotate(24 444.4 559.4)"/><ellipse cx="461.5" cy="531" rx="3.3" ry="4.4" transform="rotate(24 461.5 531)"/><ellipse cx="478.6" cy="502.6" rx="3.3" ry="4.4" transform="rotate(24 478.6 502.6)"/><ellipse cx="495.7" cy="474.1" rx="3.3" ry="4.4" transform="rotate(24 495.7 474.1)"/><ellipse cx="512.8" cy="445.7" rx="3.3" ry="4.4" transform="rotate(24 512.8 445.7)"/><ellipse cx="529.9" cy="417.2" rx="3.3" ry="4.4" transform="rotate(24 529.9 417.2)"/><ellipse cx="547" cy="388.8" rx="3.3" ry="4.4" transform="rotate(24 547 388.8)"/><ellipse cx="564.1" cy="360.4" rx="3.3" ry="4.4" transform="rotate(24 564.1 360.4)"/><ellipse cx="581.2" cy="331.9" rx="3.3" ry="4.4" transform="rotate(24 581.2 331.9)"/><ellipse cx="598.3" cy="303.5" rx="3.3" ry="4.4" transform="rotate(24 598.3 303.5)"/><ellipse cx="615.4" cy="275" rx="3.3" ry="4.4" transform="rotate(24 615.4 275)"/><ellipse cx="632.5" cy="246.6" rx="3.3" ry="4.4" transform="rotate(24 632.5 246.6)"/><ellipse cx="649.6" cy="218.2" rx="3.3" ry="4.4" transform="rotate(24 649.6 218.2)"/></g><defs><clipPath id="pb"><rect x="253.5" y="916.4" width="1183" height="875.6"/></clipPath></defs><polygon fill="#000" clip-path="url(#pb)" points="280.9,1009.6 281,1012.6 281.1,1015.7 281.3,1018.7 281.5,1021.7 281.7,1024.7 282,1027.7 282.3,1030.7 282.6,1033.7 282.9,1036.7 283.3,1039.7 283.7,1042.7 284.1,1045.7 284.5,1048.6 284.9,1051.6 285.4,1054.6 285.9,1057.5 286.3,1060.5 286.8,1063.4 287.4,1066.4 287.9,1069.3 288.4,1072.3 289,1075.2 289.6,1078.1 290.1,1081 290.7,1084 291.3,1086.9 291.9,1089.8 292.5,1092.7 293.1,1095.6 293.7,1098.5 294.3,1101.4 294.9,1104.3 295.5,1107.2 296.1,1110.1 296.7,1113 297.3,1115.9 298,1118.9 298.6,1121.8 299.3,1124.7 299.9,1127.6 300.6,1130.5 301.2,1133.4 301.9,1136.3 302.6,1139.2 303.2,1142.1 303.9,1145 304.6,1147.9 305.3,1150.8 306,1153.6 306.8,1156.5 307.5,1159.4 308.2,1162.3 309,1165.2 309.7,1168.1 310.5,1171 311.3,1173.8 312.1,1176.7 312.8,1179.6 313.7,1182.5 314.5,1185.3 315.3,1188.2 316.1,1191.1 317,1193.9 317.9,1196.8 318.7,1199.6 319.6,1202.5 320.5,1205.3 321.4,1208.2 322.4,1211 323.3,1213.9 324.3,1216.7 325.2,1219.5 326.2,1222.4 327.2,1225.2 328.2,1228 329.3,1230.8 330.3,1233.6 331.4,1236.4 332.4,1239.2 333.5,1242 334.6,1244.8 335.8,1247.6 336.9,1250.4 338,1253.2 339.2,1255.9 340.4,1258.7 341.6,1261.4 342.8,1264.2 344,1266.9 345.3,1269.7 346.5,1272.4 347.8,1275.1 349.1,1277.8 350.4,1280.5 351.7,1283.2 353,1285.9 354.4,1288.6 355.8,1291.3 357.1,1294 358.5,1296.6 360,1299.3 361.4,1301.9 362.8,1304.6 364.3,1307.2 365.8,1309.8 367.3,1312.4 368.8,1315 370.3,1317.6 371.8,1320.2 373.4,1322.7 374.9,1325.3 376.5,1327.9 378.1,1330.5 379.7,1333 381.3,1335.5 382.9,1338.1 384.6,1340.6 386.2,1343.1 387.9,1345.6 389.6,1348.1 391.3,1350.5 393,1353 394.8,1355.5 396.6,1357.9 398.3,1360.3 400.1,1362.8 401.9,1365.2 403.8,1367.6 405.6,1370 407.5,1372.3 409.4,1374.7 411.2,1377 413.2,1379.4 415.1,1381.7 417,1384 419,1386.3 421,1388.6 423,1390.9 425,1393.1 427,1395.4 429,1397.6 431.1,1399.8 433.1,1402 435.2,1404.2 437.3,1406.4 439.4,1408.5 441.6,1410.7 443.7,1412.8 445.9,1414.9 448,1417 450.2,1419.1 452.4,1421.2 454.6,1423.3 456.8,1425.3 459.1,1427.3 461.3,1429.4 463.6,1431.4 465.9,1433.3 468.2,1435.3 470.6,1437.2 472.9,1439.1 475.3,1441 477.7,1442.8 480.1,1444.7 482.5,1446.5 484.9,1448.4 487.3,1450.2 489.7,1452 492.2,1453.7 494.6,1455.5 497.1,1457.2 499.6,1459 502.1,1460.7 504.6,1462.4 507.1,1464 509.6,1465.7 512.1,1467.4 514.6,1469 517.2,1470.6 519.7,1472.2 522.3,1473.8 524.9,1475.4 527.5,1476.9 530,1478.5 532.6,1480 535.2,1481.5 537.9,1483 540.5,1484.5 543.1,1485.9 545.7,1487.4 548.4,1488.8 551,1490.3 553.7,1491.7 556.3,1493.1 559,1494.5 561.7,1495.8 564.3,1497.2 567,1498.5 569.7,1499.9 572.4,1501.2 575.1,1502.5 577.8,1503.8 580.5,1505.1 583.2,1506.3 586,1507.6 588.7,1508.8 591.4,1510 594.2,1511.3 596.9,1512.5 599.6,1513.7 602.4,1514.8 605.2,1516 607.9,1517.2 610.7,1518.3 613.5,1519.4 616.2,1520.6 619,1521.7 621.8,1522.8 624.6,1523.9 627.4,1525 630.2,1526 633,1527.1 635.8,1528.1 638.6,1529.2 641.4,1530.2 644.2,1531.2 647,1532.2 649.9,1533.2 652.7,1534.1 655.5,1535.1 658.4,1536 661.2,1536.9 664,1537.9 666.9,1538.8 669.7,1539.7 672.6,1540.6 675.5,1541.5 678.3,1542.3 681.2,1543.2 684,1544 686.9,1544.9 689.8,1545.7 692.6,1546.6 695.5,1547.4 698.4,1548.2 701.3,1549 704.1,1549.8 707,1550.6 709.9,1551.3 712.8,1552.1 715.7,1552.9 718.5,1553.6 721.4,1554.4 724.3,1555.1 727.2,1555.8 730.1,1556.6 733,1557.3 735.9,1558 738.8,1558.7 741.7,1559.4 744.6,1560.1 747.5,1560.8 750.4,1561.4 753.3,1562.1 756.2,1562.8 759.1,1563.4 762,1564.1 764.9,1564.7 767.8,1565.3 770.7,1566 773.6,1566.6 776.5,1567.2 779.4,1567.8 782.3,1568.5 785.2,1569.1 788.1,1569.7 791,1570.3 793.9,1570.9 796.9,1571.5 799.8,1572.1 802.7,1572.7 805.6,1573.3 808.5,1573.9 811.4,1574.4 814.3,1575 817.2,1575.6 820.2,1576.1 823.1,1576.7 826,1577.2 828.9,1577.8 831.8,1578.3 834.8,1578.9 837.7,1579.4 840.6,1579.9 843.5,1580.4 846.4,1581 849.4,1581.5 852.3,1582 855.2,1582.5 858.1,1583 861,1583.5 864,1584 866.9,1584.5 869.8,1585 872.7,1585.5 875.7,1585.9 878.6,1586.4 881.5,1586.9 884.4,1587.4 887.4,1587.8 890.3,1588.3 893.2,1588.8 896.2,1589.2 899.1,1589.7 902,1590.1 904.9,1590.6 907.9,1591 910.8,1591.4 913.7,1591.9 916.7,1592.3 919.6,1592.7 922.5,1593.1 925.5,1593.6 928.4,1594 931.3,1594.4 934.3,1594.8 937.2,1595.2 940.1,1595.6 943.1,1596 946,1596.4 948.9,1596.8 951.9,1597.2 954.8,1597.6 957.8,1598 960.7,1598.4 963.6,1598.7 966.6,1599.1 969.5,1599.5 972.5,1599.8 975.4,1600.2 978.3,1600.6 981.3,1600.9 984.2,1601.3 987.2,1601.6 990.1,1602 993,1602.3 996,1602.7 998.9,1603 1001.9,1603.4 1004.8,1603.7 1007.7,1604 1010.7,1604.4 1013.6,1604.7 1016.6,1605 1019.5,1605.3 1022.5,1605.7 1025.4,1606 1028.4,1606.3 1031.3,1606.6 1034.3,1606.9 1037.2,1607.2 1040.1,1607.5 1043.1,1607.8 1046,1608.1 1049,1608.4 1051.9,1608.7 1054.9,1609 1057.8,1609.3 1060.8,1609.6 1063.7,1609.8 1066.7,1610.1 1069.6,1610.4 1072.6,1610.7 1075.5,1610.9 1078.5,1611.2 1081.4,1611.5 1084.4,1611.8 1087.3,1612 1090.3,1612.3 1093.2,1612.5 1096.2,1612.8 1099.1,1613 1102.1,1613.3 1105,1613.5 1108,1613.8 1110.9,1614 1113.9,1614.3 1116.8,1614.5 1119.8,1614.8 1122.7,1615 1125.7,1615.2 1128.6,1615.5 1131.6,1615.7 1134.5,1615.9 1137.5,1616.1 1140.4,1616.4 1143.4,1616.6 1146.3,1616.8 1149.3,1617 1152.3,1617.2 1155.2,1617.5 1158.2,1617.7 1161.1,1617.9 1164.1,1618.1 1167,1618.3 1170,1618.5 1172.9,1618.7 1175.9,1618.9 1178.8,1619.1 1181.8,1619.3 1184.7,1619.5 1187.7,1619.7 1190.7,1619.9 1193.6,1620.1 1196.6,1620.3 1199.5,1620.5 1202.5,1620.6 1205.4,1620.8 1208.4,1621 1211.3,1621.2 1214.3,1621.4 1217.2,1621.6 1220.2,1621.7 1223.2,1621.9 1226.1,1622.1 1229.1,1622.3 1232,1622.4 1235,1622.6 1237.9,1622.8 1240.9,1622.9 1243.8,1623.1 1246.8,1623.3 1249.8,1623.4 1252.7,1623.6 1255.7,1623.8 1258.6,1623.9 1261.6,1624.1 1264.5,1624.2 1267.5,1624.4 1270.4,1624.5 1273.4,1624.7 1276.3,1624.9 1279.3,1625 1282.3,1625.2 1285.2,1625.3 1288.2,1625.5 1291.1,1625.6 1294.1,1625.7 1297,1625.9 1300,1626 1302.9,1626.2 1305.9,1626.3 1308.8,1626.5 1311.8,1626.6 1314.7,1626.7 1317.7,1626.9 1320.7,1627 1323.6,1627.2 1326.6,1627.3 1329.5,1627.4 1332.5,1627.6 1335.4,1627.7 1338.4,1627.8 1341.3,1628 1344.3,1628.1 1347.2,1628.2 1350.2,1628.4 1353.1,1628.5 1356.1,1628.6 1359,1628.8 1362,1628.9 1364.9,1629 1367.9,1629.2 1370.8,1629.3 1373.8,1629.4 1376.7,1629.5 1379.7,1629.7 1382.6,1629.8 1385.6,1629.9 1388.5,1630 1391.5,1630.2 1394.4,1630.3 1397.4,1630.4 1400.3,1630.5 1403.3,1630.7 1406.2,1630.8 1409.2,1630.9 1412.1,1631 1415.1,1631.1 1418,1631.3 1421,1631.4 1423.9,1631.5 1426.9,1631.6 1429.8,1631.8 1432.8,1631.9 1435.7,1632 1438.6,1632.1 1441.6,1632.2 1444.5,1632.4 1445.3,1614.4 1442.3,1614.3 1439.4,1614.1 1436.4,1614 1433.5,1613.9 1430.5,1613.8 1427.6,1613.6 1424.7,1613.5 1421.7,1613.4 1418.8,1613.3 1415.8,1613.2 1412.9,1613 1409.9,1612.9 1407,1612.8 1404,1612.7 1401.1,1612.5 1398.1,1612.4 1395.2,1612.3 1392.2,1612.2 1389.3,1612.1 1386.4,1611.9 1383.4,1611.8 1380.5,1611.7 1377.5,1611.5 1374.6,1611.4 1371.6,1611.3 1368.7,1611.2 1365.7,1611 1362.8,1610.9 1359.8,1610.8 1356.9,1610.7 1353.9,1610.5 1351,1610.4 1348,1610.3 1345.1,1610.1 1342.1,1610 1339.2,1609.9 1336.2,1609.7 1333.3,1609.6 1330.3,1609.5 1327.4,1609.3 1324.4,1609.2 1321.5,1609 1318.5,1608.9 1315.6,1608.8 1312.6,1608.6 1309.7,1608.5 1306.8,1608.3 1303.8,1608.2 1300.9,1608.1 1297.9,1607.9 1295,1607.8 1292,1607.6 1289.1,1607.5 1286.1,1607.3 1283.2,1607.2 1280.2,1607 1277.3,1606.9 1274.3,1606.7 1271.4,1606.6 1268.4,1606.4 1265.5,1606.3 1262.5,1606.1 1259.6,1605.9 1256.6,1605.8 1253.7,1605.6 1250.7,1605.5 1247.8,1605.3 1244.8,1605.1 1241.9,1605 1239,1604.8 1236,1604.6 1233.1,1604.5 1230.1,1604.3 1227.2,1604.1 1224.2,1603.9 1221.3,1603.8 1218.3,1603.6 1215.4,1603.4 1212.4,1603.2 1209.5,1603.1 1206.6,1602.9 1203.6,1602.7 1200.7,1602.5 1197.7,1602.3 1194.8,1602.1 1191.8,1601.9 1188.9,1601.7 1185.9,1601.5 1183,1601.3 1180,1601.2 1177.1,1601 1174.2,1600.8 1171.2,1600.5 1168.3,1600.3 1165.3,1600.1 1162.4,1599.9 1159.4,1599.7 1156.5,1599.5 1153.6,1599.3 1150.6,1599.1 1147.7,1598.9 1144.7,1598.6 1141.8,1598.4 1138.9,1598.2 1135.9,1598 1133,1597.7 1130,1597.5 1127.1,1597.3 1124.2,1597.1 1121.2,1596.8 1118.3,1596.6 1115.3,1596.3 1112.4,1596.1 1109.5,1595.9 1106.5,1595.6 1103.6,1595.4 1100.7,1595.1 1097.7,1594.9 1094.8,1594.6 1091.8,1594.3 1088.9,1594.1 1086,1593.8 1083,1593.6 1080.1,1593.3 1077.2,1593 1074.2,1592.8 1071.3,1592.5 1068.4,1592.2 1065.4,1591.9 1062.5,1591.6 1059.6,1591.4 1056.6,1591.1 1053.7,1590.8 1050.8,1590.5 1047.8,1590.2 1044.9,1589.9 1042,1589.6 1039,1589.3 1036.1,1589 1033.2,1588.7 1030.3,1588.4 1027.3,1588.1 1024.4,1587.8 1021.5,1587.4 1018.5,1587.1 1015.6,1586.8 1012.7,1586.5 1009.8,1586.1 1006.8,1585.8 1003.9,1585.5 1001,1585.1 998.1,1584.8 995.1,1584.5 992.2,1584.1 989.3,1583.8 986.4,1583.4 983.4,1583.1 980.5,1582.7 977.6,1582.3 974.7,1582 971.8,1581.6 968.8,1581.3 965.9,1580.9 963,1580.5 960.1,1580.1 957.2,1579.7 954.3,1579.4 951.3,1579 948.4,1578.6 945.5,1578.2 942.6,1577.8 939.7,1577.4 936.8,1577 933.8,1576.6 930.9,1576.2 928,1575.7 925.1,1575.3 922.2,1574.9 919.3,1574.5 916.4,1574.1 913.5,1573.6 910.5,1573.2 907.6,1572.8 904.7,1572.3 901.8,1571.9 898.9,1571.4 896,1571 893.1,1570.5 890.2,1570.1 887.3,1569.6 884.4,1569.1 881.5,1568.7 878.6,1568.2 875.7,1567.7 872.8,1567.2 869.9,1566.7 867,1566.2 864.1,1565.8 861.2,1565.3 858.3,1564.8 855.4,1564.3 852.5,1563.7 849.6,1563.2 846.7,1562.7 843.8,1562.2 840.9,1561.7 838,1561.2 835.1,1560.6 832.2,1560.1 829.3,1559.5 826.4,1559 823.5,1558.4 820.7,1557.9 817.8,1557.3 814.9,1556.8 812,1556.2 809.1,1555.6 806.2,1555.1 803.4,1554.5 800.5,1553.9 797.6,1553.3 794.7,1552.7 791.9,1552.1 789,1551.5 786.1,1550.9 783.2,1550.2 780.4,1549.6 777.5,1548.9 774.7,1548.3 771.8,1547.6 768.9,1546.9 766.1,1546.2 763.2,1545.5 760.4,1544.9 757.5,1544.2 754.7,1543.4 751.8,1542.7 749,1542 746.2,1541.3 743.3,1540.5 740.5,1539.8 737.6,1539.1 734.8,1538.3 732,1537.5 729.2,1536.8 726.3,1536 723.5,1535.2 720.7,1534.4 717.9,1533.6 715,1532.8 712.2,1532 709.4,1531.2 706.6,1530.3 703.8,1529.5 701,1528.7 698.2,1527.8 695.4,1526.9 692.6,1526.1 689.8,1525.2 687,1524.3 684.2,1523.4 681.5,1522.5 678.7,1521.6 675.9,1520.7 673.1,1519.7 670.4,1518.8 667.6,1517.9 664.8,1516.9 662.1,1515.9 659.3,1515 656.6,1514 653.8,1513 651.1,1512 648.3,1511 645.6,1510 642.9,1509 640.1,1508 637.4,1506.9 634.7,1505.9 632,1504.9 629.3,1503.8 626.5,1502.7 623.8,1501.6 621.1,1500.6 618.4,1499.5 615.8,1498.3 613.1,1497.2 610.4,1496.1 607.7,1494.9 605.1,1493.8 602.4,1492.6 599.7,1491.4 597.1,1490.2 594.5,1489 591.8,1487.8 589.2,1486.6 586.6,1485.3 583.9,1484.1 581.3,1482.8 578.7,1481.6 576.1,1480.3 573.5,1479 570.9,1477.7 568.4,1476.3 565.8,1475 563.2,1473.6 560.6,1472.3 558.1,1470.9 555.5,1469.5 553,1468.1 550.5,1466.7 548,1465.3 545.4,1463.8 542.9,1462.4 540.4,1460.9 537.9,1459.4 535.5,1457.9 533,1456.4 530.5,1454.9 528.1,1453.3 525.6,1451.8 523.2,1450.2 520.8,1448.7 518.4,1447.1 516,1445.5 513.6,1443.8 511.2,1442.2 508.8,1440.5 506.4,1438.9 504.1,1437.2 501.8,1435.5 499.4,1433.8 497.1,1432.1 494.8,1430.3 492.5,1428.6 490.2,1426.8 488,1425 485.7,1423.2 483.5,1421.4 481.3,1419.5 479,1417.7 476.8,1415.8 474.6,1414 472.4,1412.1 470.2,1410.2 468,1408.4 465.9,1406.4 463.7,1404.5 461.6,1402.6 459.4,1400.6 457.3,1398.7 455.2,1396.7 453.1,1394.7 451,1392.7 449,1390.7 446.9,1388.6 444.9,1386.6 442.9,1384.5 440.8,1382.4 438.9,1380.3 436.9,1378.2 434.9,1376.1 433,1374 431,1371.8 429.1,1369.7 427.2,1367.5 425.3,1365.3 423.5,1363.1 421.6,1360.9 419.8,1358.7 417.9,1356.4 416.1,1354.2 414.3,1351.9 412.6,1349.6 410.8,1347.3 409,1345 407.3,1342.7 405.6,1340.4 403.9,1338 402.2,1335.7 400.5,1333.3 398.9,1330.9 397.3,1328.5 395.6,1326.1 394,1323.7 392.4,1321.3 390.9,1318.9 389.3,1316.4 387.7,1314 386.2,1311.5 384.7,1309 383.3,1306.5 381.8,1304 380.4,1301.5 378.9,1299 377.5,1296.4 376.1,1293.9 374.7,1291.3 373.4,1288.8 372,1286.2 370.7,1283.6 369.3,1281 368,1278.4 366.7,1275.8 365.5,1273.2 364.2,1270.6 362.9,1268 361.7,1265.3 360.5,1262.7 359.3,1260 358.1,1257.4 356.9,1254.7 355.8,1252.1 354.6,1249.4 353.5,1246.7 352.4,1244 351.3,1241.3 350.2,1238.6 349.1,1235.9 348,1233.2 347,1230.5 346,1227.8 345,1225 344,1222.3 343,1219.6 342,1216.8 341,1214.1 340.1,1211.3 339.2,1208.6 338.2,1205.8 337.3,1203 336.4,1200.3 335.6,1197.5 334.7,1194.7 333.8,1191.9 333,1189.1 332.1,1186.3 331.3,1183.5 330.5,1180.7 329.7,1177.9 328.9,1175.1 328.1,1172.3 327.4,1169.5 326.6,1166.7 325.8,1163.8 325.1,1161 324.4,1158.2 323.6,1155.3 322.9,1152.5 322.2,1149.6 321.5,1146.8 320.8,1143.9 320.1,1141.1 319.4,1138.2 318.8,1135.4 318.1,1132.5 317.5,1129.7 316.8,1126.8 316.2,1123.9 315.5,1121.1 314.9,1118.2 314.2,1115.3 313.6,1112.4 313,1109.5 312.4,1106.7 311.8,1103.8 311.2,1100.9 310.6,1098 310,1095.1 309.4,1092.2 308.8,1089.4 308.2,1086.5 307.6,1083.6 307,1080.7 306.4,1077.8 305.9,1075 305.3,1072.1 304.8,1069.2 304.3,1066.3 303.7,1063.5 303.2,1060.6 302.7,1057.7 302.3,1054.9 301.8,1052 301.4,1049.1 300.9,1046.3 300.5,1043.4 300.1,1040.5 299.8,1037.7 299.4,1034.8 299.1,1032 298.8,1029.1 298.5,1026.2 298.3,1023.4 298.1,1020.5 297.9,1017.7 297.7,1014.8 297.6,1011.9 297.5,1009.1"/><g fill="#0000ff"><ellipse cx="289.8" cy="1016.6" rx="3.1" ry="4.2" transform="rotate(-8 289.8 1016.6)"/><ellipse cx="295.8" cy="1049.3" rx="3.1" ry="4.2" transform="rotate(-8 295.8 1049.3)"/><ellipse cx="301.7" cy="1082" rx="3.1" ry="4.2" transform="rotate(-8 301.7 1082)"/><ellipse cx="307.7" cy="1114.7" rx="3.1" ry="4.2" transform="rotate(-8 307.7 1114.7)"/><ellipse cx="313.6" cy="1147.4" rx="3.1" ry="4.2" transform="rotate(-8 313.6 1147.4)"/><ellipse cx="319.6" cy="1180.1" rx="3.1" ry="4.2" transform="rotate(-8 319.6 1180.1)"/><ellipse cx="325.6" cy="1212.8" rx="3.1" ry="4.2" transform="rotate(-8 325.6 1212.8)"/><ellipse cx="331.5" cy="1245.5" rx="3.1" ry="4.2" transform="rotate(-8 331.5 1245.5)"/><ellipse cx="337.5" cy="1278.2" rx="3.1" ry="4.2" transform="rotate(-8 337.5 1278.2)"/><ellipse cx="343.4" cy="1310.9" rx="3.1" ry="4.2" transform="rotate(-8 343.4 1310.9)"/><ellipse cx="349.4" cy="1343.6" rx="3.1" ry="4.2" transform="rotate(-8 349.4 1343.6)"/><ellipse cx="355.4" cy="1376.3" rx="3.1" ry="4.2" transform="rotate(-8 355.4 1376.3)"/><ellipse cx="361.3" cy="1409" rx="3.1" ry="4.2" transform="rotate(-8 361.3 1409)"/><ellipse cx="367.3" cy="1441.7" rx="3.1" ry="4.2" transform="rotate(-8 367.3 1441.7)"/><ellipse cx="373.2" cy="1474.4" rx="3.1" ry="4.2" transform="rotate(-8 373.2 1474.4)"/><ellipse cx="379.2" cy="1507.1" rx="3.1" ry="4.2" transform="rotate(-8 379.2 1507.1)"/><ellipse cx="385.2" cy="1539.8" rx="3.1" ry="4.2" transform="rotate(-8 385.2 1539.8)"/><ellipse cx="391.1" cy="1572.5" rx="3.1" ry="4.2" transform="rotate(-8 391.1 1572.5)"/><ellipse cx="397.1" cy="1605.2" rx="3.1" ry="4.2" transform="rotate(-8 397.1 1605.2)"/><ellipse cx="403" cy="1637.9" rx="3.1" ry="4.2" transform="rotate(-8 403 1637.9)"/><ellipse cx="409" cy="1670.6" rx="3.1" ry="4.2" transform="rotate(-8 409 1670.6)"/></g><polygon fill="#000" points="1015.2,259.9 1014.8,250 1016.4,241.1 1017.2,238 1018,235.2 1018.8,233.4 1019.6,229.8 1020.4,226.5 1021.2,224.8 1022,223.6 1022.8,223.8 1023.6,221.3 1024.4,220.3 1025.2,220.6 1026,218.9 1026.8,218 1027.6,213.1 1028.4,214.9 1029.2,213.7 1030,213.2 1030.8,212.7 1031.6,213.2 1032.4,211.5 1033.2,210.6 1034,210.1 1034.8,209.2 1035.6,208.2 1036.4,207.4 1037.2,206.2 1038,206.1 1038.8,205.1 1039.6,203.4 1040.4,203.9 1041.2,201.5 1042,203.3 1042.8,201.5 1043.6,201.6 1044.4,200.3 1045.2,200.2 1046,198.6 1046.8,198.1 1047.6,196.3 1048.4,197.8 1049.2,196.3 1050,197.6 1050.8,195.7 1051.6,195.1 1052.4,194.4 1053.2,192.6 1054,194.5 1054.8,192.4 1055.6,193.3 1056.4,192.1 1057.2,190.9 1058,187.8 1058.8,189.5 1059.6,186.3 1060.4,185.9 1061.2,188.3 1062,184.1 1062.8,183.9 1063.6,186.8 1064.4,186.8 1065.2,186.3 1066,187.3 1066.8,187.2 1067.6,186.5 1068.4,185.8 1069.2,184.6 1070,185 1070.8,184.9 1071.6,185.6 1072.4,185.1 1073.2,182.5 1074,186.3 1074.8,187.9 1075.6,187.5 1076.4,186.1 1077.2,187.3 1078,186 1078.8,185.4 1079.6,184.6 1080.4,182.5 1081.2,181.9 1082,181.3 1082.8,178 1083.6,178.5 1084.4,174.9 1085.2,174.6 1086,174.5 1086.8,173.5 1087.6,171.6 1088.4,171.9 1089.2,173 1090,170.4 1090.8,171.1 1091.6,170 1092.4,170.5 1093.2,169.4 1094,168.2 1094.8,166.5 1095.6,165.9 1096.4,166.7 1097.2,165.3 1098,165.6 1098.8,164.9 1099.6,164.9 1100.4,164.3 1101.2,164 1102,163.7 1102.8,162.9 1103.6,162.4 1104.4,162.3 1105.2,160.3 1106,161.6 1106.8,160.4 1107.6,160.3 1108.4,159.2 1109.2,159.9 1110,156.8 1110.8,157.1 1111.6,157 1112.4,152.1 1113.2,153.3 1114,153.7 1114.8,154.2 1115.6,153.4 1116.4,151.5 1117.2,152.7 1118,151.9 1118.8,151.4 1119.6,149 1120.4,149.3 1121.2,145.2 1122,147.6 1122.8,147.6 1123.6,145.7 1124.4,145.4 1125.2,146.8 1126,144.4 1126.8,143.6 1127.6,144 1128.4,143.2 1129.2,142.9 1130,142.8 1130.8,138.9 1131.6,141.9 1132.4,141.1 1133.2,141.7 1134,140.4 1134.8,140.8 1135.6,139.7 1136.4,139.4 1137.2,139.3 1138,137.9 1138.8,137.2 1139.6,137.5 1140.4,136.3 1141.2,137 1142,136.1 1142.8,137.2 1143.6,137 1144.4,136.1 1145.2,135.6 1146,135.1 1146.8,135.2 1147.6,135 1148.4,134.2 1149.2,133.3 1150,131.9 1150.8,133.3 1151.6,132 1152.4,131.9 1153.2,131.4 1154,130.3 1154.8,129.5 1155.6,127.4 1156.4,130.2 1157.2,128.8 1158,129.3 1158.8,128.5 1159.6,129.2 1160.4,128.5 1161.2,127.4 1162,126.7 1162.8,126.9 1163.6,126 1164.4,124.8 1165.2,125.7 1166,124.1 1166.8,124.1 1167.6,122.1 1168.4,123.3 1169.2,120.1 1170,122.4 1170.8,121.8 1171.6,122.6 1172.4,122.2 1173.2,117.7 1174,118.9 1174.8,119.5 1175.6,119.7 1176.4,118.6 1177.2,116.8 1178,117.5 1178.8,118.5 1179.6,116.5 1180.4,115.3 1181.2,116.5 1182,112.2 1182.8,114.3 1183.6,115.2 1184.4,114.8 1185.2,114.9 1186,114 1186.8,112.7 1187.6,112.5 1188.4,112.6 1189.2,113 1190,110.3 1190.8,111.3 1191.6,111.6 1192.4,111.6 1193.2,110.7 1194,109.7 1194.8,110.6 1195.6,108.5 1196.4,109.2 1197.2,108.7 1198,109.2 1198.8,109.1 1199.6,108.5 1200.4,105.2 1201.2,107.3 1202,107.3 1202.8,107 1203.6,106.7 1204.4,105.5 1205.2,105.8 1206,106.1 1206.8,104.9 1207.6,103.7 1208.4,104.5 1209.2,102.6 1210,104.2 1210.8,103.7 1211.6,103.6 1212.4,103.6 1213.2,102.6 1214,101.9 1214.8,97.7 1215.6,100.4 1216.4,100 1217.2,100.8 1218,100.7 1218.8,99.5 1219.6,100.2 1220.4,99.2 1221.2,99.9 1222,98.5 1222.8,97.6 1223.6,94.6 1224.4,95.7 1225.2,96.7 1226,96.7 1226.8,96.8 1227.6,97.6 1228.4,96.1 1229.2,97.6 1230,96.5 1230.8,96.9 1231.6,93.5 1232.4,94.8 1233.2,91.8 1234,91.9 1234.8,94.3 1235.6,93.6 1236.4,92.6 1237.2,94.9 1238,94.7 1238.8,92 1239.6,90.7 1240.4,92 1241.2,90.9 1242,92.1 1242.8,91.7 1243.6,91.5 1244.4,91.3 1245.2,91.8 1246,91.5 1246.8,90.4 1247.6,90 1248.4,91.2 1249.2,89.3 1250,88.5 1250.8,89.7 1251.6,88.8 1252.4,89.2 1253.2,87.8 1254,88.9 1254.8,87.7 1255.6,86.4 1256.4,84.6 1257.2,86.6 1258,86.6 1258.8,85.6 1259.6,85.1 1260.4,84.9 1261.2,82.8 1262,85.9 1262.8,84.8 1263.6,83.8 1264.4,80.2 1265.2,83.5 1266,84.6 1266.8,83.5 1267.6,82.7 1268.4,82.2 1269.2,82.3 1270,81.9 1270.8,82.6 1271.6,81.5 1272.4,81.5 1273.2,80.2 1274,81.9 1274,89.5 1273.2,89.2 1272.4,90.5 1271.6,91.1 1270.8,88.9 1270,89.7 1269.2,91.3 1268.4,90.5 1267.6,90.5 1266.8,90.8 1266,91.8 1265.2,93 1264.4,90.9 1263.6,92.8 1262.8,93.5 1262,94.8 1261.2,92.6 1260.4,93.8 1259.6,95.2 1258.8,93 1258,94.2 1257.2,93.5 1256.4,93.9 1255.6,94.4 1254.8,94.5 1254,96.6 1253.2,95.5 1252.4,96.3 1251.6,98 1250.8,96.2 1250,97.1 1249.2,96 1248.4,98 1247.6,98.7 1246.8,98.3 1246,100.3 1245.2,98.8 1244.4,99.3 1243.6,99.7 1242.8,99.7 1242,99.2 1241.2,99.4 1240.4,101.1 1239.6,101.5 1238.8,101.1 1238,104.7 1237.2,102.8 1236.4,104.1 1235.6,102.8 1234.8,104.2 1234,102.4 1233.2,102.3 1232.4,102 1231.6,103.3 1230.8,103.1 1230,104.7 1229.2,105.1 1228.4,104.5 1227.6,105.4 1226.8,104.1 1226,104.1 1225.2,103.4 1224.4,104.3 1223.6,107.2 1222.8,105 1222,106.1 1221.2,106 1220.4,107.3 1219.6,107.2 1218.8,109 1218,108.3 1217.2,108.7 1216.4,108.4 1215.6,108.7 1214.8,109.7 1214,110.9 1213.2,113.2 1212.4,111.2 1211.6,110.6 1210.8,112.3 1210,113 1209.2,112.5 1208.4,111.6 1207.6,112.2 1206.8,112.2 1206,113.9 1205.2,113.8 1204.4,114.3 1203.6,115 1202.8,114.4 1202,115.1 1201.2,115.4 1200.4,115.7 1199.6,115.4 1198.8,116 1198,116.3 1197.2,116.8 1196.4,116.5 1195.6,117.4 1194.8,117.7 1194,117.3 1193.2,118.6 1192.4,119 1191.6,119.4 1190.8,119.9 1190,119.9 1189.2,119.1 1188.4,122.9 1187.6,121.7 1186.8,120.4 1186,120.8 1185.2,121 1184.4,122.3 1183.6,122.5 1182.8,124.3 1182,122.9 1181.2,123.1 1180.4,124.4 1179.6,123.9 1178.8,129.4 1178,125.9 1177.2,126.4 1176.4,127.3 1175.6,127.1 1174.8,126.8 1174,128.6 1173.2,128.5 1172.4,129.5 1171.6,129.3 1170.8,129.8 1170,131.1 1169.2,131.1 1168.4,129.9 1167.6,131.4 1166.8,132.8 1166,133.4 1165.2,133.1 1164.4,132.7 1163.6,133.8 1162.8,134 1162,136.8 1161.2,135.6 1160.4,135.5 1159.6,137 1158.8,137.1 1158,138.5 1157.2,137.2 1156.4,137.4 1155.6,137.6 1154.8,136.4 1154,139.2 1153.2,138.4 1152.4,139.1 1151.6,139.5 1150.8,141.1 1150,140.8 1149.2,141.6 1148.4,142 1147.6,141.8 1146.8,143.5 1146,142.6 1145.2,146.3 1144.4,144.1 1143.6,144.7 1142.8,144.7 1142,145 1141.2,145.7 1140.4,145.4 1139.6,145.4 1138.8,145.8 1138,146.5 1137.2,145.2 1136.4,147.4 1135.6,146.8 1134.8,146.8 1134,148.2 1133.2,148 1132.4,148.4 1131.6,149.6 1130.8,149.3 1130,153.6 1129.2,150 1128.4,151.5 1127.6,151 1126.8,152.4 1126,151.9 1125.2,153.4 1124.4,153.2 1123.6,155.6 1122.8,154.4 1122,156.2 1121.2,156.7 1120.4,157 1119.6,157.2 1118.8,161.4 1118,158.7 1117.2,159.5 1116.4,159.7 1115.6,160.9 1114.8,163.9 1114,161.2 1113.2,162.5 1112.4,162.9 1111.6,164 1110.8,168.6 1110,165.2 1109.2,166.7 1108.4,166.7 1107.6,168.5 1106.8,169.1 1106,168.5 1105.2,169.2 1104.4,168.9 1103.6,169.8 1102.8,170 1102,170.7 1101.2,171 1100.4,172.5 1099.6,172.5 1098.8,172.3 1098,173.6 1097.2,173.6 1096.4,173.8 1095.6,174.6 1094.8,175.3 1094,175.5 1093.2,175.7 1092.4,177 1091.6,176 1090.8,177.1 1090,178.8 1089.2,179.1 1088.4,179 1087.6,180 1086.8,180.6 1086,181.5 1085.2,184.4 1084.4,183.4 1083.6,186.1 1082.8,187.5 1082,189.1 1081.2,187.4 1080.4,190.1 1079.6,189.8 1078.8,192 1078,193.7 1077.2,193.1 1076.4,195.4 1075.6,194.2 1074.8,194.1 1074,194.8 1073.2,192.7 1072.4,192.8 1071.6,192.9 1070.8,193.9 1070,192.5 1069.2,193.1 1068.4,192.4 1067.6,194.6 1066.8,194 1066,193.8 1065.2,193.8 1064.4,196.2 1063.6,193.9 1062.8,192.6 1062,194.5 1061.2,195.1 1060.4,195.1 1059.6,196 1058.8,196.2 1058,196.7 1057.2,197.7 1056.4,198.7 1055.6,199.1 1054.8,198.3 1054,200.4 1053.2,200.3 1052.4,201.3 1051.6,201.3 1050.8,202.9 1050,204.9 1049.2,204 1048.4,205.2 1047.6,204.1 1046.8,204.9 1046,207.2 1045.2,207.1 1044.4,206.3 1043.6,207.8 1042.8,208.6 1042,209.3 1041.2,208.2 1040.4,209.9 1039.6,215.1 1038.8,211 1038,212.2 1037.2,212.7 1036.4,213.6 1035.6,214 1034.8,215.7 1034,216.8 1033.2,218.3 1032.4,217.6 1031.6,217.9 1030.8,219.4 1030,218.8 1029.2,221.9 1028.4,221.4 1027.6,222.4 1026.8,224.1 1026,224.6 1025.2,229.7 1024.4,226.4 1023.6,229 1022.8,228.9 1022,229.1 1021.2,230.8 1020.4,231.4 1019.6,235.4 1018.8,238.1 1018,242.6 1017.2,242.4 1016.4,245.7 1016.6,262"/><g stroke="#000" stroke-width="2"><line x1="1011" y1="323" x2="1011" y2="351.5"/><line x1="1013" y1="272.5" x2="1013" y2="290"/><line x1="1013" y1="290" x2="1013" y2="303" stroke="#999"/><line x1="1014.6" y1="246" x2="1014.6" y2="262"/></g><g stroke-width="1.6"><line x1="1278.6" y1="287" x2="1278.6" y2="344" stroke="#555"/><line x1="1301.9" y1="272" x2="1301.9" y2="346" stroke="#333"/><line x1="1321.4" y1="280.5" x2="1321.4" y2="346" stroke="#555"/><line x1="1334.3" y1="278.6" x2="1334.3" y2="316.7" stroke="#444"/><line x1="1355.7" y1="295.7" x2="1355.7" y2="310" stroke="#000" stroke-width="2"/><line x1="1282.8" y1="237.6" x2="1282.8" y2="247" stroke="#000" stroke-width="2"/><line x1="1280.7" y1="254.8" x2="1280.7" y2="272.9" stroke="#222" stroke-width="2"/><line x1="1304.3" y1="251" x2="1304.3" y2="265.2" stroke="#333" stroke-width="2"/></g><circle cx="1282.9" cy="343.3" r="1.2" fill="#000"/><polygon fill="#000" points="1286.7,280 1287.6,279.5 1286.9,278.4 1287.2,277.7 1287.7,277 1287.8,276.2 1288.1,275.5 1288.5,274.7 1288.4,273.9 1289,273.2 1289.5,272.5 1289.6,271.7 1289.3,270.8 1289.9,270.1 1290.4,269.5 1290.9,268.7 1291.2,267.9 1291.2,267 1291.3,266.2 1290.9,265.3 1292.1,264.8 1292.2,264 1292,263.1 1292.2,262.4 1291.9,261.4 1292.2,260.7 1292.2,259.9 1292.8,259.2 1292.6,258.3 1293.5,257.7 1293.1,256.9 1293.3,256.1 1294,255.6 1294.6,254.9 1294.2,253.9 1294.3,253.1 1294.7,252.4 1295,251.7 1295.1,250.9 1295.5,250.1 1296.2,249.5 1296.6,248.8 1296.3,247.9 1296.3,247 1297,246.4 1296.9,245.6 1297,244.8 1297.5,244.1 1297.8,243.4 1297.8,242.5 1298,241.8 1299.2,241.3 1298.7,240.3 1299.1,239.6 1299.9,239 1299.6,238.1 1299.8,237.3 1300.8,236.8 1300.3,235.8 1300.9,235.1 1301.2,234.4 1301.8,233.8 1301.9,232.9 1298.4,231.7 1298,232.4 1296.7,232.8 1297.4,233.9 1297.1,234.6 1297,235.4 1296.1,236 1296.3,236.9 1295.7,237.5 1295.5,238.3 1295.5,239.2 1294.4,239.6 1294.9,240.6 1294.8,241.4 1294.2,242.1 1293.9,242.8 1292.9,243.3 1293.8,244.5 1293.5,245.3 1293.2,246 1292.6,246.7 1292.8,247.6 1292.1,248.2 1291.7,248.9 1291.7,249.7 1291.7,250.6 1291.5,251.4 1291.3,252.1 1290.9,252.8 1290.6,253.6 1290.2,254.3 1290.2,255.2 1289.8,255.9 1289.4,256.7 1289.6,257.6 1289.1,258.3 1288.9,259.1 1289.1,259.9 1288.7,260.7 1288.6,261.5 1288.4,262.2 1288,263 1287.8,263.7 1287.6,264.5 1287.6,265.3 1287.3,266.1 1287.3,266.9 1286.8,267.6 1286.1,268.1 1286.5,269.1 1286.3,269.8 1285.1,270.3 1286,271.4 1285.3,272 1285.5,272.9 1285,273.6 1283.9,274.1 1284.6,275.2 1284.4,275.9 1284.2,276.7 1284,277.5 1283.8,278.3 1282.8,278.8"/><polygon fill="#000" points="1308.1,247.8 1307.9,246.9 1307.9,246.1 1308.4,245.4 1308.3,244.5 1308.7,243.8 1309,243.1 1309,242.2 1309.5,241.5 1309.5,240.7 1309.7,239.9 1310.1,239.2 1310.5,238.5 1310.6,237.7 1310.6,236.8 1311.3,236.2 1311.2,235.4 1311.7,234.8 1311.5,234 1311.7,233.3 1312.3,232.6 1312.7,231.9 1312.9,231.2 1313.9,230.7 1313.3,229.6 1313.6,228.8 1314.3,228.3 1314.4,227.4 1315,226.8 1315.3,226.1 1315.6,225.3 1316.9,225 1315.7,223.7 1316,223.3 1316.4,222.9 1317.2,222.5 1317.8,222 1318,221.1 1318.4,220.4 1319.2,220 1319.5,219.2 1320.1,218.7 1320.8,218.2 1321.9,218.1 1318.1,214.9 1317.3,215.2 1317.2,216.2 1316.7,216.8 1315.9,217.2 1315.3,217.7 1314.9,218.5 1314.6,219.2 1313.9,219.7 1312.9,219.9 1312.4,220.9 1312,222 1311.8,222.9 1311.5,223.6 1311.3,224.4 1311,225.1 1310.6,225.8 1310.5,226.7 1310.2,227.4 1309.7,228.1 1309.6,228.9 1309.1,229.6 1308.3,230.1 1308.4,231 1308.1,231.7 1307.1,232.2 1307.4,233.3 1307.1,234.2 1306.8,234.9 1306.8,235.8 1306.7,236.6 1306,237.2 1306.3,238.1 1305.5,238.7 1305.7,239.6 1305.7,240.4 1305.2,241.1 1305.2,242 1304.8,242.7 1304.7,243.5 1303.8,244.1 1304.2,245 1303.5,245.6 1303.5,246.5"/><polygon fill="#000" points="1325,267.3 1325.4,266.5 1325.3,265.7 1325.9,264.9 1325.4,264.1 1325.7,263.3 1325.7,262.5 1326,261.7 1325.6,260.9 1327,260.2 1326,259.3 1326.4,258.6 1326,257.7 1326.2,256.9 1326.7,256.2 1326.3,255.3 1326.8,254.6 1327.5,253.9 1326.9,253 1327.1,252.2 1327,251.4 1327,250.6 1327.1,249.8 1327.1,249.2 1327.8,248.8 1328.3,248.2 1328,247.2 1328.6,246.6 1328.9,245.9 1328.9,245 1329.5,244.4 1329.7,243.6 1330.3,242.9 1330.8,242.3 1330.7,241.4 1331.1,240.7 1331.3,239.9 1331.7,239.2 1332.4,238.7 1333.1,238.1 1332.6,237 1333.6,236.5 1333.4,235.6 1333.6,234.8 1331,233.6 1329.8,234 1330.1,235 1329.6,235.7 1329.6,236.5 1328.7,237 1328.8,237.9 1328.7,238.8 1328.4,239.5 1327.7,240.1 1327.5,240.9 1327.4,241.7 1327.2,242.5 1325.9,242.8 1326.2,243.8 1326,244.6 1325.5,245.2 1325.4,246.1 1325,246.8 1324.3,247.3 1323.9,248.3 1323.2,249.3 1323.5,250.2 1323.9,251 1323.6,251.8 1323.2,252.6 1323.2,253.4 1323.4,254.2 1323.1,255 1323.5,255.8 1323.1,256.6 1323.2,257.4 1323,258.2 1323,259 1322.6,259.7 1322.5,260.5 1322.9,261.4 1322.8,262.2 1322.2,262.9 1322.5,263.8 1322.3,264.5 1322.3,265.3 1322,266.1 1322.1,266.9"/><polygon fill="#000" points="1338.9,276.3 1338.6,275.4 1338.9,274.6 1339.1,273.9 1339.5,273.1 1339,272.2 1339.4,271.5 1339.7,270.7 1339.5,269.9 1339.9,269.1 1340.2,268.4 1340.5,267.6 1340.1,266.7 1340.4,265.9 1340.7,265.2 1341.7,264.6 1341.5,263.7 1341.2,263.1 1341.1,262.5 1341.9,261.9 1341.9,261.1 1342.7,260.6 1342.4,259.6 1342.8,258.9 1343.5,258.3 1343.9,257.6 1344,256.8 1344.2,255.9 1345.3,255.6 1345.4,254.7 1345.2,253.8 1345.6,253.3 1345.7,252.8 1346.3,252.5 1346.6,251.7 1347.2,251.1 1347.8,250.6 1348.4,250 1348.8,249.3 1349.9,249.2 1349.9,248.2 1350.6,247.7 1351,247 1351.7,246.5 1352.1,245.8 1352.7,245.3 1353.4,244.9 1354.4,244.7 1354.3,243.5 1354.6,242.8 1351.8,240.2 1351.2,240.7 1350.4,241.1 1350.1,241.9 1349.5,242.4 1348.5,242.6 1347.6,242.9 1348,244.3 1347.1,244.6 1346.7,245.3 1346.1,245.8 1345.5,246.3 1345,247 1344.7,247.8 1343.9,248.2 1343.5,248.8 1343.2,249.7 1342.4,250.2 1341.2,250.8 1341.2,251.9 1341.1,252.8 1340.1,253.2 1340.3,254.2 1340.2,255 1339.7,255.7 1339.6,256.5 1339.3,257.2 1338.6,257.8 1337.7,258.3 1338.2,259.4 1337.7,260 1337.5,260.8 1336.8,261.7 1336.7,262.7 1336.4,263.5 1336.4,264.3 1336.4,265.1 1336.2,265.9 1336.1,266.7 1335.9,267.5 1335.2,268.1 1334.8,268.9 1335.1,269.7 1335,270.5 1335.1,271.4 1334.5,272.1 1334.3,272.8 1334.4,273.7 1333.9,274.4 1334.3,275.3"/><polygon fill="#000" points="1360.2,288.5 1359.9,287.6 1360.9,287 1360.6,286.1 1361.1,285.4 1361,284.6 1360.5,283.7 1360.6,282.9 1360.7,282.1 1360.7,281.3 1362,280.7 1361.6,279.8 1361.4,279.5 1361.3,279.1 1363.1,279.2 1362.2,277.7 1363.2,277.4 1364.1,277 1364.1,276.1 1364,275.1 1364.5,274.5 1365.4,274.1 1365.6,273.2 1365.5,272.2 1366.1,271.7 1366.3,270.9 1366.8,270.7 1367.2,270.5 1367.8,270 1368.4,269.5 1369.3,269.3 1369.6,268.4 1370.4,268.2 1371,267.6 1371.8,267.3 1372.1,266.5 1372.5,265.7 1372.9,264.9 1374.4,265.3 1375,264.5 1375,263.2 1375.6,262.6 1376.7,262.5 1376.7,261.5 1377,260.7 1377.4,260 1378.6,259.9 1378.9,259.1 1379.3,258.5 1380,258 1380.2,257.1 1380.2,256.8 1380.2,256.9 1380.9,256.8 1381.7,256.9 1382.4,256.4 1383.4,257.2 1384.1,256.4 1384.9,256.4 1385.6,255.9 1386.4,255.8 1387.2,255.6 1388.2,256.5 1388.6,255.2 1389.4,255.8 1390.1,255.6 1390.9,255.2 1391.7,255.4 1392.5,255.1 1393.3,255.1 1394.1,254.6 1395,255.3 1395.7,254.7 1396.6,255.4 1397.3,254.4 1398.1,254.9 1397.6,249.5 1396.8,249.8 1395.9,248.9 1395.2,249.8 1394.4,249.8 1393.6,250.1 1392.8,249.8 1391.9,249.2 1391.1,249.4 1390.4,249.9 1389.5,249.4 1388.7,250.1 1387.8,250.4 1387,250.7 1386.3,251 1385.5,251.1 1384.7,251.2 1383.7,250.5 1382.9,250.4 1382.3,251.7 1381.5,251.8 1380.7,251.6 1380,252.2 1379.1,252.4 1377.7,253.1 1376.8,254.1 1375.9,254.5 1374.5,254.2 1375.1,255.9 1374.6,256.5 1372.9,256.1 1373.6,257.7 1373,258.3 1372.2,258.6 1371.9,259.5 1371.3,260 1370.8,260.5 1370.2,260.7 1369.5,261.1 1369.4,262.1 1367.8,261.4 1367.6,262.5 1367.4,263.4 1366.9,264.1 1366.4,264.7 1365.7,265.2 1365,265.6 1364.4,266.1 1363.5,266.3 1362.4,267 1362.5,268.6 1362.2,269.3 1361.7,270 1361.2,270.6 1360.8,271.3 1360.2,271.8 1359.9,272.6 1359.2,273.1 1359,273.9 1358.7,274.7 1358,275.2 1357.7,276 1357.5,276.8 1356.9,277.9 1356.1,279 1356.6,279.9 1356,280.6 1356.3,281.4 1355.9,282.2 1356.1,283 1355.2,283.7 1355.5,284.6 1355.4,285.3 1354.5,286 1355.5,287 1355.5,287.8"/><line x1="964" y1="36" x2="964" y2="387.5" stroke="#000" stroke-width="2"/><line x1="963" y1="386" x2="1437" y2="386" stroke="#000" stroke-width="2.6"/><g stroke="#000" stroke-width="1.8"><line x1="965" y1="376.9" x2="972" y2="376.9"/><line x1="965" y1="347.4" x2="976" y2="347.4"/><line x1="965" y1="317.9" x2="972" y2="317.9"/><line x1="965" y1="288.4" x2="976" y2="288.4"/><line x1="965" y1="258.9" x2="972" y2="258.9"/><line x1="965" y1="229.4" x2="976" y2="229.4"/><line x1="965" y1="199.9" x2="972" y2="199.9"/><line x1="965" y1="170.4" x2="976" y2="170.4"/><line x1="965" y1="140.9" x2="972" y2="140.9"/><line x1="965" y1="111.4" x2="976" y2="111.4"/><line x1="965" y1="81.9" x2="972" y2="81.9"/><line x1="965" y1="52.4" x2="976" y2="52.4"/><line x1="1010.8" y1="385" x2="1010.8" y2="375"/><line x1="1026.6" y1="385" x2="1026.6" y2="375"/><line x1="1063.6" y1="385" x2="1063.6" y2="379"/><line x1="1116.4" y1="385" x2="1116.4" y2="375"/><line x1="1169.3" y1="385" x2="1169.3" y2="379"/><line x1="1222.1" y1="385" x2="1222.1" y2="375"/><line x1="1274.9" y1="385" x2="1274.9" y2="379"/><line x1="1327.7" y1="385" x2="1327.7" y2="375"/><line x1="1433.4" y1="385" x2="1433.4" y2="375"/></g><g font-family="'Liberation Sans', Arial, sans-serif" fill="#000"><text transform="translate(951 358.7) scale(1 1.035)" font-size="35" text-anchor="end">0.0</text><text transform="translate(951 299.7) scale(1 1.035)" font-size="35" text-anchor="end">0.1</text><text transform="translate(951 240.7) scale(1 1.035)" font-size="35" text-anchor="end">0.2</text><text transform="translate(951 181.7) scale(1 1.035)" font-size="35" text-anchor="end">0.3</text><text transform="translate(951 122.7) scale(1 1.035)" font-size="35" text-anchor="end">0.4</text><text transform="translate(951 63.7) scale(1 1.035)" font-size="35" text-anchor="end">0.5</text><text transform="translate(1006 423) scale(1 1.035)" font-size="32" text-anchor="middle">0</text><text transform="translate(1030 423) scale(1 1.035)" font-size="32" text-anchor="middle">3</text><text transform="translate(1112 423) scale(1 1.035)" font-size="32" text-anchor="middle">20</text><text transform="translate(1217.5 423) scale(1 1.035)" font-size="32" text-anchor="middle">40</text><text transform="translate(1323 423) scale(1 1.035)" font-size="32" text-anchor="middle">60</text><text transform="translate(1428 423) scale(1 1.035)" font-size="32" text-anchor="middle">80</text><text transform="translate(1194.5 455.5) scale(1 1.035)" font-size="37.5" text-anchor="middle">time (k<tspan dx="1">s</tspan><tspan dx="3.5">)</tspan></text><text transform="translate(876.7 209.5) rotate(-90) scale(1 1.035)" font-size="37" text-anchor="middle">P(H<tspan font-size="21" dy="12.5">2</tspan><tspan dy="-12.5" dx="2">)</tspan><tspan dx="-1"> (mbar</tspan><tspan dx="2">)</tspan></text></g><g stroke="#000" stroke-width="4" fill="none"><line x1="251.5" y1="32" x2="251.5" y2="1796"/><line x1="1438.5" y1="32" x2="1438.5" y2="1796"/><line x1="249.5" y1="34" x2="1440.5" y2="34"/><line x1="249.5" y1="1794" x2="1440.5" y2="1794"/><line x1="249.5" y1="914.4" x2="1440.5" y2="914.4"/></g><g stroke="#000" stroke-width="3.8"><line x1="238.5" y1="891.1" x2="250" y2="891.1"/><line x1="227.5" y1="817.5" x2="250" y2="817.5"/><line x1="238.5" y1="743.9" x2="250" y2="743.9"/><line x1="227.5" y1="670.2" x2="250" y2="670.2"/><line x1="238.5" y1="596.6" x2="250" y2="596.6"/><line x1="227.5" y1="523" x2="250" y2="523"/><line x1="238.5" y1="449.4" x2="250" y2="449.4"/><line x1="227.5" y1="375.7" x2="250" y2="375.7"/><line x1="238.5" y1="302.1" x2="250" y2="302.1"/><line x1="227.5" y1="228.5" x2="250" y2="228.5"/><line x1="238.5" y1="154.8" x2="250" y2="154.8"/><line x1="227.5" y1="81.2" x2="250" y2="81.2"/><line x1="238.5" y1="1768.6" x2="250" y2="1768.6"/><line x1="227.5" y1="1695" x2="250" y2="1695"/><line x1="238.5" y1="1621.4" x2="250" y2="1621.4"/><line x1="227.5" y1="1547.8" x2="250" y2="1547.8"/><line x1="238.5" y1="1474.2" x2="250" y2="1474.2"/><line x1="227.5" y1="1400.6" x2="250" y2="1400.6"/><line x1="238.5" y1="1327" x2="250" y2="1327"/><line x1="227.5" y1="1253.4" x2="250" y2="1253.4"/><line x1="238.5" y1="1179.8" x2="250" y2="1179.8"/><line x1="227.5" y1="1106.2" x2="250" y2="1106.2"/><line x1="238.5" y1="1032.6" x2="250" y2="1032.6"/><line x1="227.5" y1="959" x2="250" y2="959"/><line x1="1426" y1="83.4" x2="1437" y2="83.4"/><line x1="1415" y1="189.6" x2="1437" y2="189.6"/><line x1="1426" y1="295.8" x2="1437" y2="295.8"/><line x1="1415" y1="401.9" x2="1437" y2="401.9"/><line x1="1426" y1="508" x2="1437" y2="508"/><line x1="1415" y1="614.2" x2="1437" y2="614.2"/><line x1="1426" y1="720.4" x2="1437" y2="720.4"/><line x1="1415" y1="826.5" x2="1437" y2="826.5"/><line x1="1415" y1="1014.6" x2="1437" y2="1014.6"/><line x1="1426" y1="1121.5" x2="1437" y2="1121.5"/><line x1="1415" y1="1228.3" x2="1437" y2="1228.3"/><line x1="1426" y1="1335.2" x2="1437" y2="1335.2"/><line x1="1415" y1="1442" x2="1437" y2="1442"/><line x1="1426" y1="1548.8" x2="1437" y2="1548.8"/><line x1="1415" y1="1655.7" x2="1437" y2="1655.7"/><line x1="1426" y1="1762.5" x2="1437" y2="1762.5"/><line x1="290" y1="35" x2="290" y2="59.5"/><line x1="290" y1="891" x2="290" y2="938.5"/><line x1="290" y1="1771" x2="290" y2="1793"/><line x1="481.5" y1="35" x2="481.5" y2="47"/><line x1="481.5" y1="902" x2="481.5" y2="926.5"/><line x1="481.5" y1="1782" x2="481.5" y2="1793"/><line x1="673" y1="35" x2="673" y2="59.5"/><line x1="673" y1="891" x2="673" y2="938.5"/><line x1="673" y1="1771" x2="673" y2="1793"/><line x1="864.5" y1="35" x2="864.5" y2="47"/><line x1="864.5" y1="902" x2="864.5" y2="926.5"/><line x1="864.5" y1="1782" x2="864.5" y2="1793"/><line x1="1056" y1="35" x2="1056" y2="59.5"/><line x1="1056" y1="891" x2="1056" y2="938.5"/><line x1="1056" y1="1771" x2="1056" y2="1793"/><line x1="1247.5" y1="35" x2="1247.5" y2="47"/><line x1="1247.5" y1="902" x2="1247.5" y2="926.5"/><line x1="1247.5" y1="1782" x2="1247.5" y2="1793"/></g><g font-family="'Liberation Sans', Arial, sans-serif" fill="#000"><text transform="translate(213 835.1) scale(1 1.035)" font-size="60" text-anchor="end">0.0</text><text transform="translate(213 687.8) scale(1 1.035)" font-size="60" text-anchor="end">0.1</text><text transform="translate(213 540.6) scale(1 1.035)" font-size="60" text-anchor="end">0.2</text><text transform="translate(213 393.3) scale(1 1.035)" font-size="60" text-anchor="end">0.3</text><text transform="translate(213 246.1) scale(1 1.035)" font-size="60" text-anchor="end">0.4</text><text transform="translate(213 98.8) scale(1 1.035)" font-size="60" text-anchor="end">0.5</text><text transform="translate(213 1712.6) scale(1 1.035)" font-size="60" text-anchor="end">3.0</text><text transform="translate(213 1565.4) scale(1 1.035)" font-size="60" text-anchor="end">3.5</text><text transform="translate(213 1418.2) scale(1 1.035)" font-size="60" text-anchor="end">4.0</text><text transform="translate(213 1271) scale(1 1.035)" font-size="60" text-anchor="end">4.5</text><text transform="translate(213 1123.8) scale(1 1.035)" font-size="60" text-anchor="end">5.0</text><text transform="translate(213 976.6) scale(1 1.035)" font-size="60" text-anchor="end">5.5</text><text transform="translate(1462 207.2) scale(1 1.035)" font-size="60" text-anchor="start">-0.3</text><text transform="translate(1462 419.5) scale(1 1.035)" font-size="60" text-anchor="start">-0.2</text><text transform="translate(1462 631.8) scale(1 1.035)" font-size="60" text-anchor="start">-0.1</text><text transform="translate(1462 844.1) scale(1 1.035)" font-size="60" text-anchor="start">0.0</text><text transform="translate(1462 1032.2) scale(1 1.035)" font-size="60" text-anchor="start">0.0</text><text transform="translate(1462 1245.9) scale(1 1.035)" font-size="60" text-anchor="start">0.5</text><text transform="translate(1462 1459.6) scale(1 1.035)" font-size="60" text-anchor="start">1.0</text><text transform="translate(1462 1673.3) scale(1 1.035)" font-size="60" text-anchor="start">1.5</text><text transform="translate(290 1866) scale(1 1.035)" font-size="60" text-anchor="middle">0</text><text transform="translate(673 1866) scale(1 1.035)" font-size="60" text-anchor="middle">1000</text><text transform="translate(1056 1866) scale(1 1.035)" font-size="60" text-anchor="middle">2000</text><text transform="translate(1439 1866) scale(1 1.035)" font-size="60" text-anchor="middle">3000</text></g><g font-family="'Liberation Sans', Arial, sans-serif" fill="#000"><text transform="translate(829 1955) scale(1 1.035)" font-size="86" text-anchor="middle">time <tspan dx="1">(s</tspan><tspan dx="6">)</tspan></text><text transform="translate(81.7 867) rotate(-90) scale(1 1.035)" font-size="86" text-anchor="middle">p(H<tspan font-size="52" dy="30.7">2</tspan><tspan dy="-30.7" dx="3.5">)</tspan><tspan dx="-3"> (mbar</tspan><tspan dx="3.5">)</tspan></text><text transform="translate(1644.4 863) rotate(-90) scale(1 1.035)" font-size="86" text-anchor="middle">H sorption (wt%<tspan dx="4.5">)</tspan></text><text transform="translate(281 178.3) scale(1 1.01)" font-size="65.5" text-anchor="start">0.018 wt%(H<tspan font-size="37" dy="22">2</tspan><tspan dy="-22" dx="3.8">)</tspan><tspan dx="-2.3">/min</tspan></text><text transform="translate(630 1070.5) scale(1 1.035)" font-size="86" text-anchor="start">T = 375 K</text><text transform="translate(455.2 1702.5) scale(1 1.01)" font-size="66" text-anchor="start">0.28 wt%(H<tspan font-size="37.7" dy="21.5">2</tspan><tspan dy="-21.5" dx="3.8">)</tspan><tspan dx="-4.3">/min</tspan></text></g></svg></body></html>
